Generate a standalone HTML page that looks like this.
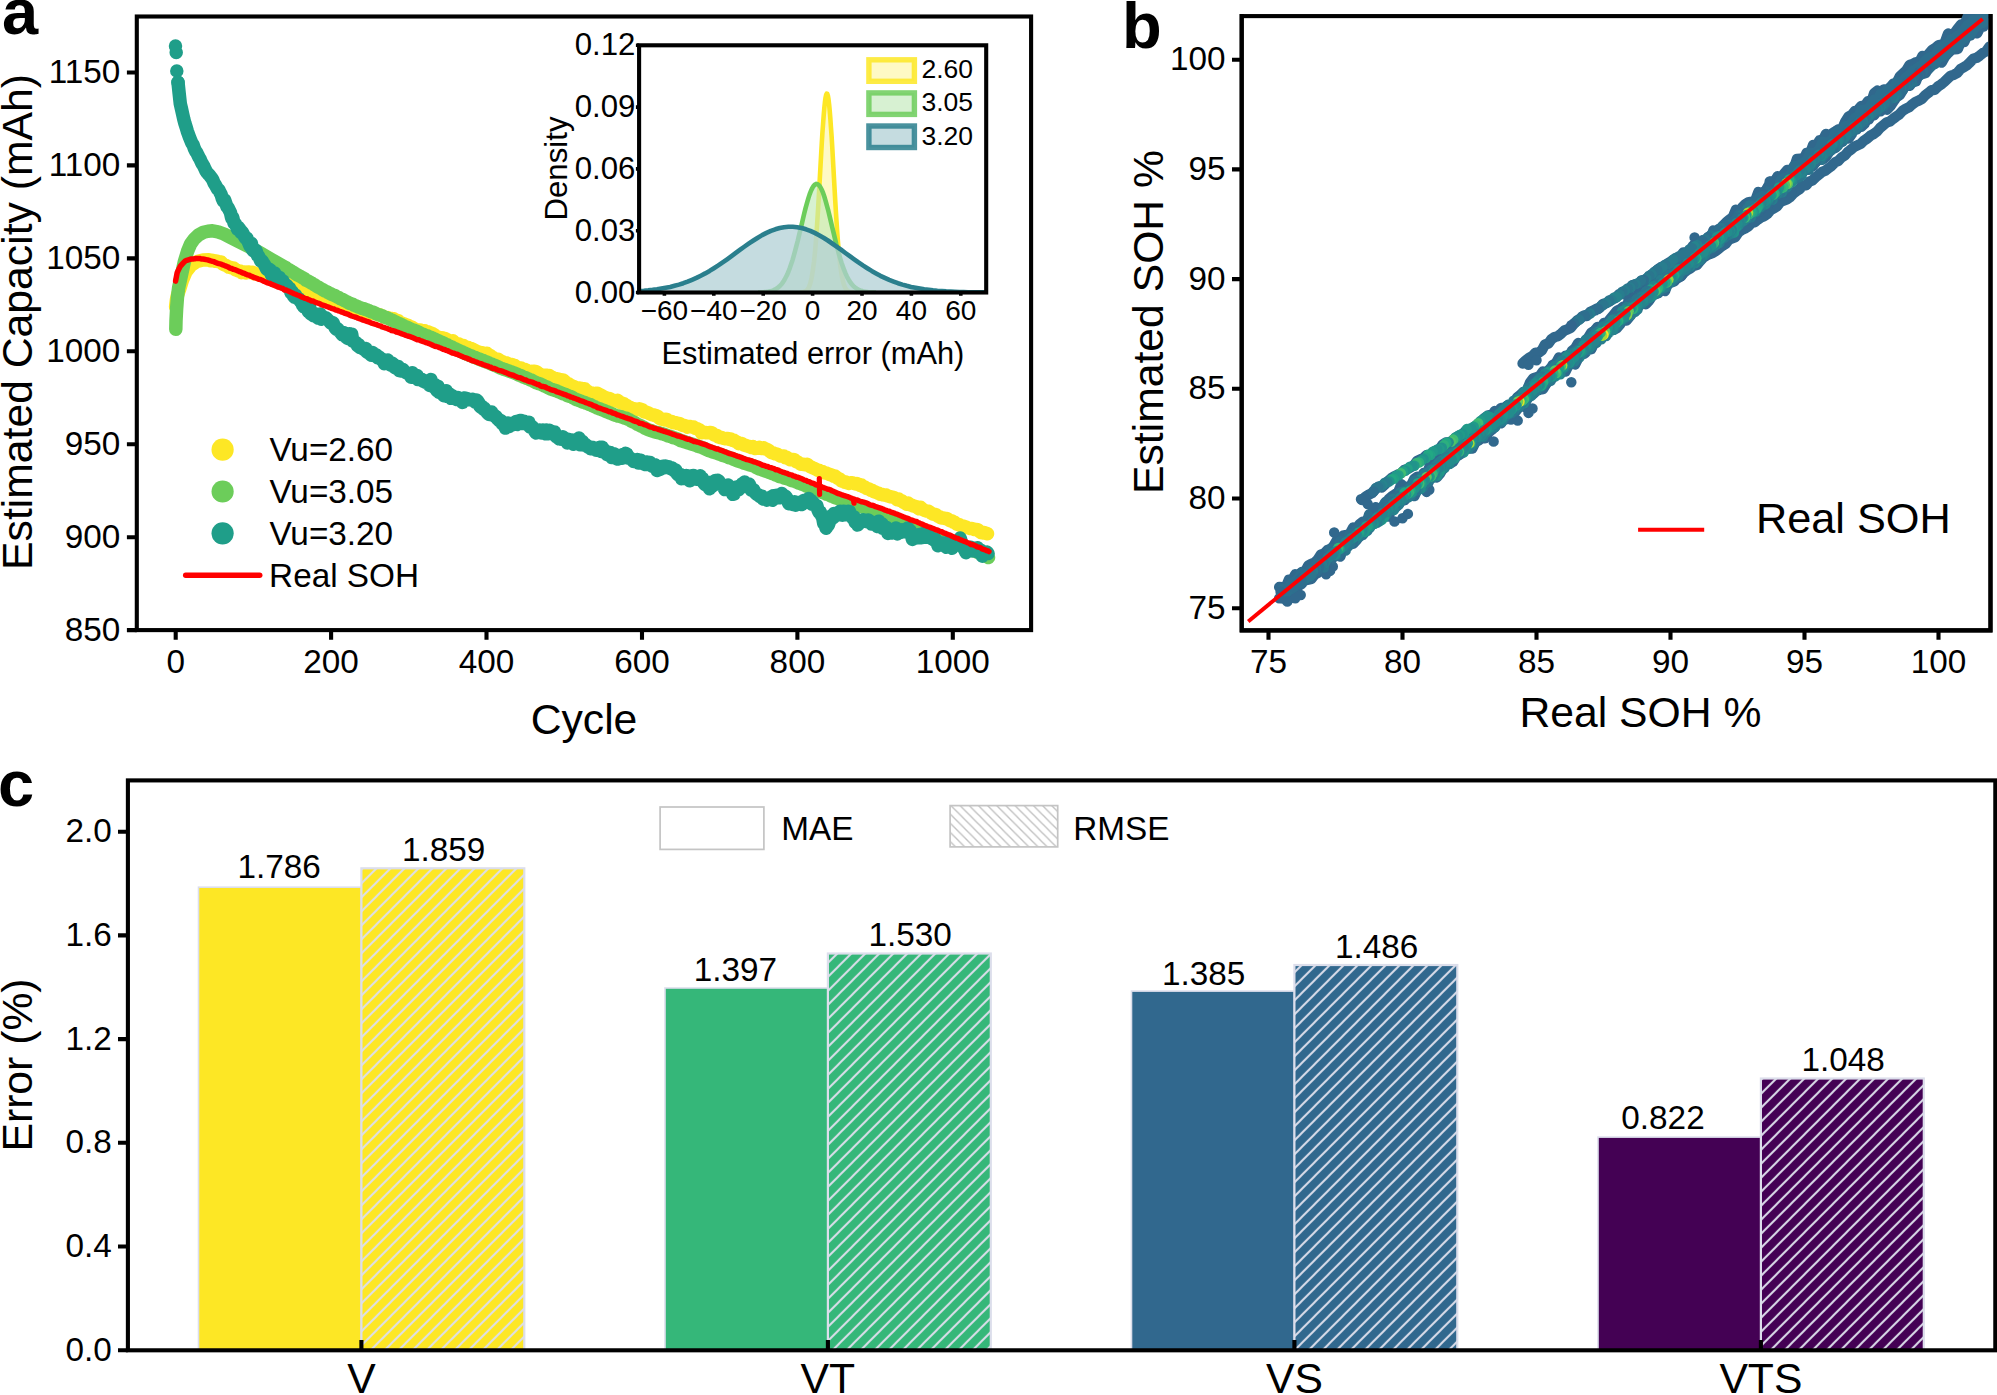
<!DOCTYPE html>
<html><head><meta charset="utf-8"><title>Figure</title>
<style>html,body{margin:0;padding:0;background:#fff}svg{display:block}text{font-family:'Liberation Sans', sans-serif;fill:#000}</style>
</head><body>
<svg width="1997" height="1395" viewBox="0 0 1997 1395">
<rect width="1997" height="1395" fill="#fff"/>
<!-- panel a -->
<g fill="none" stroke-linecap="round" stroke-linejoin="round" stroke-width="13.5">
<polyline stroke="#fde725" points="175.6,306.8 176.4,300 177.5,295 179.5,289.7 182.5,280 186.2,271.4 191,265.5 197,261.5 203,260 208.8,259.8 210.4,260.8 211.9,260.3 213.5,260.8 215,261.2 216.6,261 218.1,261.6 219.7,261.9 221.2,262 222.8,264.1 224.3,264.9 225.9,265.4 227.5,266.4 229,267.2 230.6,267.5 232.1,268.1 233.7,268.1 235.2,269.6 236.8,270.2 238.3,270.9 239.9,270.9 241.4,272.6 243,272.1 244.5,272 246.1,273 247.7,272.2 249.2,271.9 250.8,272.6 252.3,272.2 253.9,273.8 255.4,273.5 257,273.8 258.5,274.9 260.1,274.1 261.6,275.5 263.2,274.8 264.8,275.7 266.3,275.8 267.9,277.2 269.4,277.8 271,277.9 272.5,279.4 274.1,280 275.6,281.3 277.2,281.1 278.7,280.8 280.3,280.9 281.8,282 283.4,283 285,282.9 286.5,283.2 288.1,284.8 289.6,284.7 291.2,285.4 292.7,286.3 294.3,287 295.8,287.7 297.4,288.1 298.9,289.8 300.5,290.5 302.1,292 303.6,292.3 305.2,292.3 306.7,293.4 308.3,294.4 309.8,293.9 311.4,294 312.9,294.2 314.5,294.5 316,295.1 317.6,295 319.1,296.6 320.7,296.4 322.3,297.1 323.8,298.2 325.4,298.9 326.9,298.9 328.5,299.9 330,300.8 331.6,301.2 333.1,301 334.7,302.4 336.2,302.8 337.8,303 339.4,302.8 340.9,303.5 342.5,303.7 344,304.2 345.6,305.2 347.1,305.8 348.7,306.1 350.2,306.7 351.8,307.3 353.3,307.6 354.9,308.3 356.4,308.7 358,309.6 359.6,311.1 361.1,311.3 362.7,311.5 364.2,312.1 365.8,312.6 367.3,313.7 368.9,313.5 370.4,312.6 372,313.3 373.5,312.7 375.1,313.8 376.7,313.9 378.2,315.1 379.8,314.8 381.3,315.5 382.9,316.3 384.4,317.2 386,317.5 387.5,317.4 389.1,318.3 390.6,318.5 392.2,318.6 393.7,318.8 395.3,320.1 396.9,320.2 398.4,320.8 400,322.3 401.5,322.9 403.1,323.5 404.6,324.3 406.2,324.8 407.7,325.2 409.3,326.1 410.8,326.8 412.4,327.4 414,328.4 415.5,329.3 417.1,330.1 418.6,329.9 420.2,329.9 421.7,331 423.3,330.8 424.8,330.8 426.4,332 427.9,331.8 429.5,332.6 431.1,333 432.6,333.7 434.2,334.7 435.7,336 437.3,337 438.8,337.2 440.4,337.8 441.9,337.8 443.5,338.8 445,338.4 446.6,339.4 448.1,340.1 449.7,340.6 451.3,341.2 452.8,340.7 454.4,342.4 455.9,343.4 457.5,344.2 459,344.1 460.6,345.2 462.1,346.4 463.7,345.6 465.2,347 466.8,347.8 468.4,347.6 469.9,348.7 471.5,348.6 473,349.4 474.6,350.1 476.1,351.3 477.7,351.9 479.2,353 480.8,352.4 482.3,352.8 483.9,353.4 485.4,353.4 487,353.3 488.6,355 490.1,355.5 491.7,356.7 493.2,357.6 494.8,358.8 496.3,359.1 497.9,359.2 499.4,360.2 501,361.6 502.5,361.8 504.1,362.8 505.7,363 507.2,363.1 508.8,364.5 510.3,364.3 511.9,364.4 513.4,366.7 515,365.7 516.5,367.3 518.1,368 519.6,368.2 521.2,368 522.7,369.6 524.3,369.2 525.9,369.9 527.4,370.8 529,371.5 530.5,371.4 532.1,371.6 533.6,371.2 535.2,371.4 536.7,371.9 538.3,373.1 539.8,374.4 541.4,374.9 543,375.6 544.5,375.2 546.1,375.2 547.6,375.5 549.2,375.5 550.7,376.6 552.3,377.2 553.8,378.6 555.4,378.5 556.9,379 558.5,379 560,379.7 561.6,380.2 563.2,380 564.7,381.4 566.3,382.8 567.8,383.5 569.4,384.4 570.9,385.8 572.5,386 574,386.7 575.6,387.6 577.1,388.2 578.7,387.9 580.3,388.1 581.8,388.7 583.4,388.8 584.9,388.8 586.5,391.1 588,391.5 589.6,392.8 591.1,392.9 592.7,394 594.2,393.4 595.8,393.7 597.3,393.3 598.9,394.3 600.5,395 602,395.8 603.6,396.8 605.1,397.3 606.7,398.3 608.2,398.3 609.8,398.6 611.3,399.6 612.9,400.3 614.4,400.9 616,401 617.6,400.3 619.1,401.6 620.7,402.8 622.2,403.1 623.8,403.8 625.3,404.9 626.9,405.5 628.4,406.8 630,407.4 631.5,408.8 633.1,409.2 634.7,408.7 636.2,409.3 637.8,409.4 639.3,408.8 640.9,409.4 642.4,409.6 644,411.9 645.5,412.2 647.1,412.5 648.6,413.1 650.2,414 651.7,414.7 653.3,414.7 654.9,415.6 656.4,415.8 658,416.6 659.5,418.4 661.1,419.1 662.6,419.1 664.2,419.9 665.7,419.3 667.3,419.8 668.8,420.8 670.4,421.7 672,421.5 673.5,422.8 675.1,422.4 676.6,423.3 678.2,423.6 679.7,423.5 681.3,424.8 682.8,425.5 684.4,425.6 685.9,426 687.5,427.1 689,426.5 690.6,426.6 692.2,427.1 693.7,427.1 695.3,428.3 696.8,428.6 698.4,429.2 699.9,430.3 701.5,432.8 703,432.4 704.6,432.3 706.1,432.7 707.7,432.8 709.3,432.6 710.8,432.5 712.4,433.2 713.9,434.7 715.5,435.2 717,435.4 718.6,437.1 720.1,437.5 721.7,437.6 723.2,438.2 724.8,438.8 726.3,438.6 727.9,438.6 729.5,439.4 731,439 732.6,440.4 734.1,440.3 735.7,441.5 737.2,442.2 738.8,443.6 740.3,443.2 741.9,443.7 743.4,444.7 745,445.2 746.6,445.7 748.1,446.3 749.7,446.8 751.2,447.4 752.8,446.7 754.3,448.4 755.9,448.5 757.4,447.9 759,447.4 760.5,448.4 762.1,448.6 763.6,447.8 765.2,448.9 766.8,449.3 768.3,450 769.9,451.4 771.4,452.5 773,452.8 774.5,453.7 776.1,453.9 777.6,454.4 779.2,455.4 780.7,456.1 782.3,456.2 783.9,456.1 785.4,457.8 787,457.4 788.5,458.6 790.1,459.7 791.6,459.4 793.2,459.4 794.7,459.9 796.3,461.7 797.8,462.1 799.4,463.2 801,464.2 802.5,464.2 804.1,464.5 805.6,464.7 807.2,464.2 808.7,465.4 810.3,466.7 811.8,467.3 813.4,468.2 814.9,468.7 816.5,469.5 818,470.5 819.6,470.6 821.2,471.6 822.7,471.6 824.3,473 825.8,472.9 827.4,473.5 828.9,474.2 830.5,474.7 832,475 833.6,476.1 835.1,475.9 836.7,477.5 838.3,478.5 839.8,478.9 841.4,481.1 842.9,481.3 844.5,482.2 846,482.1 847.6,483 849.1,483.4 850.7,482.8 852.2,482.7 853.8,483.4 855.3,483.9 856.9,483.6 858.5,484.2 860,485.5 861.6,485 863.1,486.6 864.7,487 866.2,488.4 867.8,488.7 869.3,489.2 870.9,490.2 872.4,490.4 874,491.7 875.6,492.1 877.1,492.9 878.7,493.3 880.2,494.3 881.8,494.3 883.3,494.9 884.9,495.2 886.4,495.1 888,496.1 889.5,496.5 891.1,496.9 892.6,497.1 894.2,497.6 895.8,498.6 897.3,499.7 898.9,499.1 900.4,500.5 902,501 903.5,502.4 905.1,503.1 906.6,504.1 908.2,503.1 909.7,504.6 911.3,505 912.9,505.9 914.4,506.2 916,506.7 917.5,507.7 919.1,508.7 920.6,507.3 922.2,509 923.7,510 925.3,510.6 926.8,511.1 928.4,511.3 929.9,512.1 931.5,513.3 933.1,514.1 934.6,514.4 936.2,514.8 937.7,516.1 939.3,516.8 940.8,517.9 942.4,518.1 943.9,518.1 945.5,518.7 947,518.5 948.6,519.8 950.2,520.8 951.7,520.7 953.3,522.1 954.8,522.4 956.4,523.9 957.9,524.5 959.5,524.7 961,525.9 962.6,525.9 964.1,526.4 965.7,526.9 967.2,527.6 968.8,528.1 970.4,528.6 971.9,528.5 973.5,529.3 975,529.6 976.6,529.4 978.1,529.9 979.7,531.6 981.2,532.6 982.8,532.9 984.3,532.6 985.9,533.2 987.5,533.7"/>
<polyline stroke="#6ccd5a" points="175.8,329.3 176,320.8 176.6,309.2 177.4,298 178.6,288 181.4,275.2 184.3,262 187.6,251.1 190.6,244 194.1,239.1 198.5,235 203.5,232.3 208,231.2 212.5,230.8 218,231.8 224,234 230.2,237.3 239,241.8 248.3,246.3 260.2,253 272,259.8 284.4,266.8 286,267.7 287.5,268.9 289.1,269.8 290.6,270.6 292.2,271.7 293.7,272.5 295.3,273.6 296.8,274.6 298.4,275.4 299.9,276.2 301.5,277.1 303.1,278 304.6,278.9 306.2,280.3 307.7,280.9 309.3,281.7 310.8,282.6 312.4,283.5 313.9,284.5 315.5,285.4 317,286.6 318.6,287.3 320.1,288.1 321.7,289.1 323.3,290 324.8,290.9 326.4,291.5 327.9,292.4 329.5,293.2 331,294 332.6,294.7 334.1,295.3 335.7,296 337.2,297 338.8,297.6 340.4,298.7 341.9,299.3 343.5,300 345,300.9 346.6,301.6 348.1,302.5 349.7,303.4 351.2,303.7 352.8,304.3 354.3,305.3 355.9,305.9 357.4,306.5 359,307.2 360.6,307.8 362.1,308.4 363.7,308.7 365.2,309.4 366.8,309.8 368.3,310.4 369.9,311.2 371.4,311.9 373,312.2 374.5,312.9 376.1,313.7 377.7,314.4 379.2,314.8 380.8,315.4 382.3,315.9 383.9,317 385.4,317.3 387,318 388.5,318.6 390.1,319.3 391.6,320 393.2,320.7 394.7,321.6 396.3,322.3 397.9,323.2 399.4,323.7 401,324.4 402.5,325.3 404.1,326.1 405.6,326.7 407.2,327.3 408.7,328.1 410.3,328.7 411.8,329.6 413.4,330 415,330.7 416.5,331.2 418.1,331.9 419.6,332.8 421.2,333.6 422.7,334.3 424.3,334.8 425.8,335.5 427.4,335.9 428.9,336.6 430.5,337.1 432,337.8 433.6,338.6 435.2,339.3 436.7,340.2 438.3,340.7 439.8,341.5 441.4,342.1 442.9,342.7 444.5,343.5 446,344.5 447.6,345 449.1,346 450.7,346.8 452.3,347.3 453.8,348.2 455.4,348.8 456.9,349.6 458.5,350.2 460,351.1 461.6,351.6 463.1,352.5 464.7,353.1 466.2,353.8 467.8,354.6 469.3,355.2 470.9,355.8 472.5,356.5 474,357.2 475.6,357.6 477.1,358.4 478.7,359 480.2,359.5 481.8,360.2 483.3,360.6 484.9,361.5 486.4,361.9 488,362.5 489.6,363.3 491.1,363.8 492.7,364.6 494.2,365.1 495.8,365.8 497.3,366.4 498.9,367.3 500.4,368.1 502,368.6 503.5,369.2 505.1,369.6 506.7,370.2 508.2,370.8 509.8,371.4 511.3,371.9 512.9,372.5 514.4,373.1 516,373.7 517.5,374.4 519.1,375.2 520.6,375.6 522.2,376.4 523.7,377.2 525.3,377.6 526.9,378.4 528.4,378.9 530,379.9 531.5,380.2 533.1,381.1 534.6,381.8 536.2,382.8 537.7,383.2 539.3,383.7 540.8,384.2 542.4,385 544,385.8 545.5,386.5 547.1,387.1 548.6,388 550.2,388.8 551.7,389.3 553.3,389.9 554.8,390.4 556.4,390.8 557.9,391.6 559.5,392.1 561,392.9 562.6,393.6 564.2,394 565.7,394.6 567.3,395.5 568.8,396 570.4,396.6 571.9,397 573.5,398.1 575,398.9 576.6,399.7 578.1,400.1 579.7,400.8 581.3,401.4 582.8,402.1 584.4,402.4 585.9,403.1 587.5,403.6 589,404.4 590.6,404.7 592.1,405.6 593.7,406.2 595.2,407 596.8,407.8 598.3,408.5 599.9,408.8 601.5,409.7 603,410.2 604.6,410.7 606.1,411.5 607.7,412 609.2,412.8 610.8,413.3 612.3,413.9 613.9,414.7 615.4,415.3 617,415.7 618.6,416.2 620.1,416.5 621.7,416.9 623.2,417.5 624.8,418.1 626.3,418.2 627.9,419.2 629.4,419.8 631,420.9 632.5,421.8 634.1,422.1 635.6,423.1 637.2,424.2 638.8,424.9 640.3,425.6 641.9,426.4 643.4,427.1 645,428.2 646.5,428.8 648.1,429.7 649.6,430.2 651.2,430.6 652.7,431.2 654.3,431.8 655.9,432.2 657.4,432.6 659,432.8 660.5,433.5 662.1,433.7 663.6,434 665.2,434.7 666.7,435.3 668.3,436 669.8,436.3 671.4,436.7 673,437.6 674.5,437.9 676.1,438.4 677.6,439 679.2,439.7 680.7,440.6 682.3,441 683.8,441.5 685.4,442 686.9,442.7 688.5,442.9 690,443.5 691.6,444 693.2,444.5 694.7,444.9 696.3,445.6 697.8,446.2 699.4,446.6 700.9,447.1 702.5,447.6 704,448.5 705.6,449.1 707.1,449.8 708.7,450.5 710.3,451 711.8,451.7 713.4,452.1 714.9,452.5 716.5,453 718,453.7 719.6,454.1 721.1,454.6 722.7,455.4 724.2,455.8 725.8,456.3 727.3,456.8 728.9,457.6 730.5,458 732,458.6 733.6,459.3 735.1,459.8 736.7,460.5 738.2,461 739.8,461.5 741.3,462 742.9,462.6 744.4,463.3 746,463.7 747.6,464.1 749.1,464.7 750.7,465.1 752.2,465.5 753.8,466 755.3,467 756.9,467.7 758.4,468.5 760,469.2 761.5,469.7 763.1,470.2 764.6,470.8 766.2,471.3 767.8,471.8 769.3,472.4 770.9,473 772.4,473.5 774,474 775.5,474.9 777.1,475.5 778.6,476.2 780.2,476.7 781.7,477.1 783.3,477.5 784.9,478.2 786.4,478.3 788,479 789.5,479.6 791.1,480.3 792.6,480.8 794.2,481.2 795.7,481.7 797.3,482.4 798.8,483.1 800.4,483.6 801.9,484.2 803.5,484.8 805.1,485.4 806.6,486.2 808.2,486.6 809.7,487.4 811.3,488.3 812.8,488.9 814.4,489.4 815.9,490.2 817.5,490.5 819,491.2 820.6,491.9 822.2,492.5 823.7,492.7 825.3,493.6 826.8,494.3 828.4,494.7 829.9,495.4 831.5,496.2 833,496.6 834.6,497.4 836.1,498 837.7,498.4 839.2,499.3 840.8,499.8 842.4,500.5 843.9,501.2 845.5,501.6 847,502 848.6,502.7 850.1,503.2 851.7,503.9 853.2,504.1 854.8,504.6 856.3,505 857.9,505.8 859.5,506.2 861,506.6 862.6,507 864.1,507.5 865.7,508.1 867.2,508.9 868.8,509.6 870.3,510.5 871.9,510.9 873.4,511.3 875,511.9 876.6,512.7 878.1,513.1 879.7,513.7 881.2,514.3 882.8,515 884.3,515.3 885.9,515.8 887.4,516.1 889,516.9 890.5,517.2 892.1,517.6 893.6,518.4 895.2,519.3 896.8,519.9 898.3,520.7 899.9,521.5 901.4,521.6 903,522 904.5,522.9 906.1,523 907.6,523.7 909.2,524.4 910.7,525.2 912.3,526 913.9,526.7 915.4,527.2 917,527.7 918.5,528.2 920.1,529 921.6,529.7 923.2,530.3 924.7,530.7 926.3,531.4 927.8,531.9 929.4,532.7 930.9,533.2 932.5,534 934.1,534.8 935.6,535.3 937.2,536 938.7,536.7 940.3,537.2 941.8,537.5 943.4,538 944.9,538.5 946.5,539 948,539.6 949.6,540.4 951.2,541.1 952.7,541.8 954.3,542.5 955.8,543.2 957.4,543.9 958.9,544.9 960.5,545.6 962,546.1 963.6,546.8 965.1,547.6 966.7,548.4 968.2,549.3 969.8,549.9 971.4,550.3 972.9,550.8 974.5,551.2 976,551.6 977.6,552.3 979.1,553 980.7,553.5 982.2,554.5 983.8,555.4 985.3,555.9 986.9,556.6 988.5,557.5"/>
<path stroke="#1f9e89" d="M175.5 46.1h0M176.2 52.6h0M176.8 71.1h0M178 82.2h0"/>
<polyline stroke="#1f9e89" points="178,82.2 179.2,93.8 180.3,103.8 181.5,108.9 182.7,114.4 183.8,119.2 185,123.7 186.2,127.4 187.3,131.2 188.5,134.6 189.7,137.8 190.8,140.5 192,143.3 193.2,145.1 194.3,148.4 195.5,151 196.7,152.7 197.8,154.8 199,157.4 200.1,159.1 201.3,162 202.5,164.2 203.6,165.9 204.8,168.5 206,171 207.1,172.6 208.3,174.1 209.5,175.2 210.6,176.7 211.8,178.3 213,180.3 214.1,183.2 215.3,184.9 216.5,187.1 217.6,189 218.8,189.8 220,192.5 221.1,194.4 222.3,198.5 223.5,201.2 224.6,199.8 225.8,203.4 227,206.8 228.1,207.8 229.3,210.2 230.5,212.7 231.6,217.7 232.8,217.7 234,222.9 235.1,223.2 236.3,226 237.4,229.1 238.6,227.6 239.8,229.1 240.9,232.6 242.1,231.9 243.3,234 244.4,236.4 245.6,238.4 246.8,237.9 247.9,240.8 249.1,243.9 250.3,246.7 251.4,243.4 252.6,250 253.8,251 254.9,249.7 256.1,250.8 257.3,255.3 258.4,255.8 259.6,258.3 260.8,261.1 261.9,260.6 263.1,262.7 264.3,264.4 265.4,266.3 266.6,268.9 267.8,270.1 268.9,269.1 270.1,269.7 271.3,274.8 272.4,273.4 273.6,274.3 274.7,273.1 275.9,277.1 277.1,276 278.2,277.6 279.4,277.5 280.6,279.9 281.7,282 282.9,280.9 284.1,283 285.2,285.5 286.4,285 287.6,286.2 288.7,288.1 289.9,288.5 291.1,292.9 292.2,291.7 293.4,295.7 294.6,297.2 295.7,295.2 296.9,298.3 298.1,298.7 299.2,298.9 300.4,301.3 301.6,302.7 302.7,305.3 303.9,306.9 305.1,304.9 306.2,307.1 307.4,309.7 308.6,311.8 309.7,307.6 310.9,314 312,312.5 313.2,315.7 314.4,313.5 315.5,313.6 316.7,315.6 317.9,318 319,317 320.2,314.1 321.4,319.2 322.5,316.4 323.7,317.9 324.9,318.2 326,317.8 327.2,319.3 328.4,320.2 329.5,321.4 330.7,323 331.9,323.5 333,322.7 334.2,325.6 335.4,328.3 336.5,329.2 337.7,328.9 338.9,330.5 340,331.9 341.2,333.4 342.4,334.8 343.5,332.6 344.7,333.5 345.9,337 347,337.9 348.2,338.7 349.4,333.8 350.5,337.8 351.7,334.2 352.8,341.2 354,341.1 355.2,342.1 356.3,342.8 357.5,345.9 358.7,344.5 359.8,347.4 361,347.5 362.2,348.1 363.3,349.1 364.5,349.4 365.7,348.4 366.8,351.9 368,352.7 369.2,352.3 370.3,354.4 371.5,355.3 372.7,352.6 373.8,355 375,355.2 376.2,355.1 377.3,357.6 378.5,356.4 379.7,357.7 380.8,359.2 382,359.9 383.2,360.3 384.3,363.7 385.5,360.1 386.7,361.8 387.8,360.1 389,363.1 390.1,364.6 391.3,365.4 392.5,363.3 393.6,364.6 394.8,367.7 396,366.3 397.1,368.7 398.3,366.5 399.5,370.7 400.6,370.9 401.8,370.7 403,369.5 404.1,371.1 405.3,372.2 406.5,373 407.6,373.1 408.8,373.6 410,374.8 411.1,377.3 412.3,372.7 413.5,374.2 414.6,374.6 415.8,376.4 417,375.4 418.1,379.4 419.3,379.3 420.5,379.3 421.6,379.2 422.8,380.9 424,381.4 425.1,382.1 426.3,381 427.4,383.6 428.6,380.9 429.8,385.5 430.9,379.6 432.1,384 433.3,383.9 434.4,387.6 435.6,384.9 436.8,390.6 437.9,386.3 439.1,392.4 440.3,390.8 441.4,390.9 442.6,392.3 443.8,395.7 444.9,394.6 446.1,390.7 447.3,396.6 448.4,396 449.6,394 450.8,398.3 451.9,395.6 453.1,398 454.3,398.4 455.4,397.4 456.6,399.6 457.8,397.4 458.9,399.5 460.1,398.7 461.3,399.2 462.4,402.4 463.6,399.7 464.7,397.9 465.9,399.4 467.1,398.4 468.2,399.6 469.4,399.8 470.6,399.8 471.7,400.1 472.9,399.3 474.1,401 475.2,402.2 476.4,399.9 477.6,401 478.7,402.8 479.9,406.2 481.1,407.5 482.2,406.4 483.4,409.2 484.6,408.4 485.7,410.2 486.9,412.2 488.1,413.6 489.2,414.6 490.4,413.2 491.6,412.1 492.7,415.3 493.9,414.9 495.1,416.3 496.2,416.7 497.4,418.7 498.6,419.8 499.7,421.2 500.9,420.5 502.1,423.8 503.2,422.7 504.4,424.8 505.5,428.1 506.7,425.5 507.9,422.9 509,426.6 510.2,425.5 511.4,425.4 512.5,423.7 513.7,423.6 514.9,422.4 516,421.4 517.2,424.4 518.4,421.2 519.5,420.7 520.7,420.5 521.9,423.6 523,422.5 524.2,421.3 525.4,422.4 526.5,423.9 527.7,425.1 528.9,422.3 530,427.1 531.2,426.4 532.4,426.7 533.5,428.2 534.7,430.9 535.9,433 537,430.9 538.2,431.8 539.4,430.1 540.5,432.3 541.7,433.1 542.8,429.9 544,431.7 545.2,433.8 546.3,430 547.5,432.2 548.7,433.7 549.8,430.3 551,432.3 552.2,433 553.3,434.4 554.5,431.9 555.7,436.3 556.8,435.9 558,438 559.2,438.8 560.3,438.3 561.5,439.3 562.7,436.8 563.8,437.9 565,438.9 566.2,440.4 567.3,442.9 568.5,439.3 569.7,442 570.8,440.7 572,440 573.2,444.2 574.3,441.7 575.5,443.7 576.7,442.6 577.8,439.1 579,437.9 580.1,444.7 581.3,441.8 582.5,441.5 583.6,445.1 584.8,445.1 586,444.8 587.1,446.1 588.3,447.2 589.5,447.4 590.6,448.7 591.8,447.3 593,447.5 594.1,449.2 595.3,449 596.5,450.3 597.6,448.4 598.8,448.8 600,447.3 601.1,451.4 602.3,447.2 603.5,450.5 604.6,449.9 605.8,452.8 607,454.5 608.1,452 609.3,454.7 610.5,452.6 611.6,457.6 612.8,455.1 614,453.7 615.1,455.2 616.3,458.5 617.5,459 618.6,458.8 619.8,455.4 620.9,456 622.1,458.3 623.3,454.4 624.4,454.6 625.6,453.4 626.8,453.8 627.9,458 629.1,457.8 630.3,458.1 631.4,459 632.6,460.3 633.8,461.6 634.9,459.9 636.1,459.9 637.3,459.4 638.4,463.1 639.6,461.2 640.8,460.2 641.9,462.2 643.1,462.8 644.3,464.1 645.4,464.6 646.6,462.1 647.8,462.2 648.9,463.1 650.1,462.5 651.3,464.8 652.4,466.4 653.6,466.5 654.8,464.7 655.9,466 657.1,470.5 658.2,467.3 659.4,469.6 660.6,469.2 661.7,467.5 662.9,466.2 664.1,467.8 665.2,465.9 666.4,466.7 667.6,467.5 668.7,466.9 669.9,468.2 671.1,468.7 672.2,467.9 673.4,470.2 674.6,470.7 675.7,470.1 676.9,473.5 678.1,474.7 679.2,475.4 680.4,474.4 681.6,478.7 682.7,478.5 683.9,478.5 685.1,478 686.2,475.6 687.4,477.7 688.6,476.1 689.7,480.8 690.9,476.7 692.1,478.6 693.2,475.4 694.4,476.1 695.5,477.2 696.7,479.2 697.9,479.1 699,478.9 700.2,475.8 701.4,480.5 702.5,478.3 703.7,483 704.9,484.3 706,483.6 707.2,484.7 708.4,482.2 709.5,488.8 710.7,486.2 711.9,486.7 713,482.9 714.2,483.1 715.4,480.5 716.5,480.9 717.7,480.3 718.9,481.1 720,484.3 721.2,484.3 722.4,485.4 723.5,486.2 724.7,489.6 725.9,486.2 727,489.3 728.2,485 729.4,487.1 730.5,489.5 731.7,489.1 732.8,494.3 734,494.1 735.2,487.3 736.3,487.1 737.5,487.7 738.7,489.7 739.8,488 741,486.5 742.2,483.9 743.3,484.7 744.5,482 745.7,483.7 746.8,486.6 748,487.2 749.2,484 750.3,486.7 751.5,490.2 752.7,489.4 753.8,490 755,492.6 756.2,493.8 757.3,494.5 758.5,494.9 759.7,496.3 760.8,497.1 762,496.2 763.2,499 764.3,498.3 765.5,498.6 766.7,500 767.8,499.4 769,499.1 770.2,497.6 771.3,496.7 772.5,500.3 773.6,495.7 774.8,495.7 776,495.3 777.1,496.8 778.3,497 779.5,497.8 780.6,495.8 781.8,493.5 783,496.5 784.1,497.4 785.3,496 786.5,497.6 787.6,500.5 788.8,503.7 790,503.3 791.1,503.1 792.3,504.3 793.5,504.5 794.6,501.7 795.8,505.2 797,502.5 798.1,504 799.3,503.2 800.5,502 801.6,504.6 802.8,500.9 804,500.4 805.1,501.5 806.3,502 807.5,500.4 808.6,498.6 809.8,500.8 810.9,500.4 812.1,504.3 813.3,502.5 814.4,504.8 815.6,505.3 816.8,505.6 817.9,509.6 819.1,512.5 820.3,512.1 821.4,515.4 822.6,517.3 823.8,523.8 824.9,523.6 826.1,528.2 827.3,526.1 828.4,524.9 829.6,521.3 830.8,516.1 831.9,517.7 833.1,517.9 834.3,513.4 835.4,515.8 836.6,514.9 837.8,513.4 838.9,514.2 840.1,511.2 841.3,514.2 842.4,515.3 843.6,511.3 844.8,512.8 845.9,514.8 847.1,512.5 848.2,511.3 849.4,511.4 850.6,514.6 851.7,515.8 852.9,518.5 854.1,516.9 855.2,522.4 856.4,521.8 857.6,525 858.7,524 859.9,521.9 861.1,521.9 862.2,520.1 863.4,519.8 864.6,520.2 865.7,521.3 866.9,520.6 868.1,520 869.2,520.6 870.4,522.7 871.6,524.1 872.7,522.4 873.9,523.2 875.1,522.8 876.2,524.8 877.4,526.5 878.6,521.2 879.7,526.5 880.9,525.9 882.1,523.8 883.2,528.4 884.4,528.4 885.5,529.6 886.7,527.6 887.9,533.4 889,530.5 890.2,530 891.4,532.9 892.5,531.8 893.7,532.2 894.9,532.8 896,528.1 897.2,533.9 898.4,530.8 899.5,531.6 900.7,532.4 901.9,529.8 903,531.2 904.2,531.7 905.4,530.4 906.5,531 907.7,528.1 908.9,529.5 910,530.4 911.2,533.6 912.4,539.4 913.5,535.1 914.7,535.3 915.9,536.2 917,537.8 918.2,537.4 919.4,534.6 920.5,537.8 921.7,536.3 922.9,537.5 924,533.3 925.2,534 926.3,537.2 927.5,533.6 928.7,537.2 929.8,537.7 931,538 932.2,538.9 933.3,539.4 934.5,540.3 935.7,539.6 936.8,540.7 938,545.8 939.2,543.7 940.3,543.6 941.5,543.9 942.7,542.9 943.8,545 945,544.9 946.2,547.3 947.3,544.4 948.5,541.9 949.7,544.3 950.8,545.9 952,548.3 953.2,545.8 954.3,542.5 955.5,543.4 956.7,541.7 957.8,542 959,540.1 960.2,538.1 961.3,541.8 962.5,544.6 963.6,547.1 964.8,550.2 966,552.7 967.1,549.9 968.3,549.1 969.5,551 970.6,547.2 971.8,550.8 973,548.5 974.1,548.3 975.3,549.4 976.5,551.5 977.6,547.7 978.8,550 980,550.6 981.1,550.3 982.3,556.2 983.5,554.2 984.6,552.5 985.8,552.8 987,552.2 988.1,553.5"/>
</g>
<polyline fill="none" stroke="#ff0000" stroke-width="5.5" stroke-linecap="round" stroke-linejoin="round" points="175.6,281.1 177.2,272.6 178.8,269.2 180.4,266.1 182,264.3 183.6,262.6 185.2,261 186.8,260.3 188.4,259.8 190,259.3 191.6,259 193.2,258.9 194.8,258.8 196.4,258.4 198,258.6 199.6,258.4 201.2,259 202.8,259.1 204.4,259.3 206,259.6 207.6,259.9 209.2,260.4 210.8,260.9 212.4,261.3 214,261.7 215.6,262.5 217.2,263.1 218.8,263.6 220.4,263.9 222,264.6 223.6,265.1 225.2,265.9 226.8,266.4 228.4,267.1 230,268.1 231.6,268.5 233.2,269.3 234.8,269.6 236.4,270.2 238,270.9 239.6,271.7 241.2,272.2 242.8,273 244.4,273.4 246,274.3 247.6,274.9 249.2,275.2 250.8,276.1 252.4,276.6 254,277.5 255.6,277.9 257.2,278.6 258.8,279.3 260.4,279.5 262,280.2 263.6,281.2 265.2,281.8 266.8,282.6 268.4,283.1 270,283.5 271.6,284.4 273.2,284.9 274.8,285.6 276.4,286.2 278,287 279.6,287.4 281.2,288.1 282.8,288.5 284.4,289.9 286,290.1 287.6,290.8 289.2,291.4 290.8,292.2 292.4,292.9 294,293.7 295.6,294.3 297.2,295 298.8,295.5 300.4,296.3 302,297.2 303.6,297.7 305.2,298.4 306.8,298.7 308.4,299.7 310,300.2 311.6,301 313.2,301 314.8,302 316.4,302.6 318,303.2 319.6,303.7 321.2,304.5 322.8,305.2 324.4,305.7 326,306.2 327.6,306.8 329.2,307.4 330.8,308.1 332.4,308.6 334,309 335.6,310.1 337.2,310.2 338.8,311 340.4,311.5 342,312.2 343.6,312.7 345.2,313.4 346.8,313.9 348.4,314.4 350,315.3 351.6,316 353.2,316.5 354.8,317 356.4,317.4 358,318.2 359.6,318.8 361.2,319.2 362.8,320 364.4,320.4 366,321.1 367.6,321.5 369.2,322.1 370.8,322.8 372.4,323.3 374,323.9 375.6,324.3 377.2,324.9 378.8,325.6 380.4,325.9 382,326.9 383.6,327.3 385.2,327.9 386.8,328.3 388.4,329.1 390,329.6 391.6,330.5 393.2,330.8 394.8,331.1 396.4,332 398,332.4 399.6,333 401.2,333.6 402.8,334.2 404.4,334.8 406,335.5 407.6,336 409.2,336.4 410.8,336.9 412.4,337.6 414,338.3 415.6,339 417.2,339.7 418.8,339.8 420.4,340.6 422,341.1 423.6,341.7 425.2,342.3 426.8,342.8 428.4,343.4 430,344 431.6,344.7 433.2,345.5 434.8,346.2 436.4,346.5 438,347 439.6,347.7 441.2,348.3 442.8,349.2 444.4,349.5 446,350.3 447.6,350.7 449.2,351.5 450.8,352.2 452.4,353 454,353.3 455.6,354 457.2,354.3 458.8,355.1 460.4,355.7 462,356.4 463.6,357.2 465.2,357.8 466.8,358.1 468.4,359 470,359.4 471.6,360.5 473.2,360.9 474.8,361.5 476.4,362 478,362.7 479.6,363.3 481.2,363.7 482.8,364.5 484.4,365 486,365.7 487.6,366.1 489.2,366.8 490.8,367.2 492.4,368.4 494,368.4 495.6,369 497.2,369.8 498.8,370.4 500.4,370.7 502,371.1 503.6,371.7 505.2,372.4 506.8,373 508.4,373.7 510,374.4 511.6,375 513.2,375.3 514.8,376.1 516.4,376.7 518,377.4 519.6,377.7 521.2,378.2 522.8,379 524.4,379.7 526,380 527.6,381 529.2,381.5 530.8,381.8 532.4,382.2 534,383 535.6,383.6 537.2,384.4 538.8,384.6 540.4,385.9 542,386.4 543.6,386.6 545.2,387 546.8,387.9 548.4,388.6 550,389.3 551.6,389.8 553.2,390.3 554.8,390.6 556.4,391.6 558,392.2 559.6,392.7 561.2,393.3 562.8,393.9 564.4,394.5 566,394.9 567.6,395.8 569.2,396.1 570.8,397.1 572.4,397.4 574,398.2 575.6,398.6 577.2,399.4 578.8,399.9 580.4,400.7 582,401.1 583.6,401.6 585.2,402.4 586.8,403 588.4,403.5 590,404.2 591.6,404.7 593.2,405.6 594.8,406.1 596.4,406.8 598,407.8 599.6,408.1 601.2,408.7 602.8,409.3 604.4,409.8 606,410.3 607.6,411.1 609.2,411.8 610.8,411.8 612.4,412.8 614,413.3 615.6,413.9 617.2,414.8 618.8,415.1 620.4,415.9 622,416.3 623.6,416.9 625.2,417.6 626.8,418 628.4,418.7 630,419.1 631.6,419.8 633.2,420.6 634.8,421.2 636.4,421.5 638,422.1 639.6,423.3 641.2,423.4 642.8,423.9 644.4,424.7 646,425.1 647.6,425.8 649.2,426.6 650.8,427.1 652.4,427.4 654,428.2 655.6,428.5 657.2,429 658.8,429.6 660.4,430 662,430.7 663.6,431.2 665.2,431.5 666.8,432.2 668.4,432.6 670,433.1 671.6,433.7 673.2,434.4 674.8,434.8 676.4,435.5 678,436.1 679.6,436.3 681.2,436.8 682.8,437.3 684.4,438 686,438.6 687.6,439.2 689.2,439.3 690.8,440.1 692.4,440.7 694,441.4 695.6,441.6 697.2,442.1 698.8,442.4 700.4,443.1 702,443.6 703.6,444.2 705.2,444.7 706.8,445.2 708.4,446 710,446.6 711.6,447.2 713.2,447.6 714.8,448.4 716.4,448.9 718,449.1 719.6,449.8 721.2,450.3 722.8,450.9 724.4,451.6 726,452.1 727.6,452.9 729.2,453.5 730.8,453.9 732.4,454.3 734,454.9 735.6,455.5 737.2,456.1 738.8,456.5 740.4,457.2 742,457.7 743.6,458.4 745.2,459 746.8,459.6 748.4,459.9 750,460.3 751.6,460.8 753.2,461.6 754.8,462 756.4,462.5 758,463.2 759.6,463.7 761.2,464.5 762.8,465.3 764.4,465.5 766,466.2 767.6,466.4 769.2,467.3 770.8,467.7 772.4,468.2 774,468.6 775.6,469.7 777.2,469.8 778.8,470.4 780.4,471.2 782,471.8 783.6,472.3 785.2,472.9 786.8,473.3 788.4,474.1 790,474.6 791.6,474.9 793.2,475.9 794.8,476.2 796.4,477 798,477.3 799.6,477.9 801.2,478.6 802.8,479.3 804.4,480.1 806,480.4 807.6,481.3 809.2,481.7 810.8,482.6 812.4,483.2 814,483.7 815.6,484.7 817.2,485 818.8,485.8 820.4,486.1 822,486.9 823.6,487.6 825.2,488.2 826.8,488.8 828.4,489.3 830,489.6 831.6,490.6 833.2,491.2 834.8,491.9 836.4,492.7 838,493.5 839.6,493.9 841.2,494.6 842.8,495.1 844.4,495.7 846,496.2 847.6,496.6 849.2,497.2 850.8,497.9 852.4,498.6 854,499.1 855.6,499.7 857.2,499.9 858.8,500.7 860.4,501.3 862,501.8 863.6,502.1 865.2,502.6 866.8,503.1 868.4,504 870,504.9 871.6,505.2 873.2,505.5 874.8,506.3 876.4,506.8 878,507.4 879.6,507.9 881.2,508.4 882.8,509 884.4,509.8 886,510.3 887.6,511 889.2,511.2 890.8,512.1 892.4,512.5 894,513.1 895.6,513.8 897.2,514.2 898.8,514.9 900.4,515.6 902,516.2 903.6,516.9 905.2,517.6 906.8,518.1 908.4,518.6 910,519.7 911.6,519.9 913.2,520.6 914.8,521.1 916.4,521.5 918,522.4 919.6,523.1 921.2,523.9 922.8,524.4 924.4,525.2 926,525.8 927.6,526.5 929.2,527 930.8,527.6 932.4,528.2 934,528.8 935.6,529.7 937.2,530 938.8,530.8 940.4,531.5 942,531.8 943.6,532.8 945.2,533.3 946.8,534 948.4,534.6 950,535.1 951.6,536 953.2,536.7 954.8,537.5 956.4,538.1 958,538.4 959.6,539.5 961.2,540.1 962.8,540.8 964.4,541.4 966,541.9 967.6,542.7 969.2,543.3 970.8,544.4 972.4,544.6 974,545.1 975.6,545.9 977.2,546.9 978.8,547.2 980.4,547.6 982,548.9 983.6,549.4 985.2,549.9 986.8,550.7 988.4,551.2 988.9,551.5"/>
<path fill="none" stroke="#ff0000" stroke-width="5.2" stroke-linecap="round" d="M819.3 478.6L819.6 494.3M853.4 500L854 503.2"/>
<rect x="136.8" y="16.5" width="894.3" height="613.6" fill="none" stroke="#000" stroke-width="4.1"/>
<path d="M126.9 630.1H136.8M126.9 537.2H136.8M126.9 444.2H136.8M126.9 351.3H136.8M126.9 258.4H136.8M126.9 165.4H136.8M126.9 72.5H136.8M175.7 630.1V639.8M331.1 630.1V639.8M486.5 630.1V639.8M642 630.1V639.8M797.4 630.1V639.8M952.8 630.1V639.8" stroke="#000" stroke-width="4.1" fill="none"/>
<g font-size="33.3">
<text x="120.3" y="640.5" text-anchor="end">850</text>
<text x="120.3" y="547.6" text-anchor="end">900</text>
<text x="120.3" y="454.6" text-anchor="end">950</text>
<text x="120.3" y="361.7" text-anchor="end">1000</text>
<text x="120.3" y="268.8" text-anchor="end">1050</text>
<text x="120.3" y="175.8" text-anchor="end">1100</text>
<text x="120.3" y="82.9" text-anchor="end">1150</text>
<text x="175.7" y="672.6" text-anchor="middle">0</text>
<text x="331.1" y="672.6" text-anchor="middle">200</text>
<text x="486.5" y="672.6" text-anchor="middle">400</text>
<text x="642" y="672.6" text-anchor="middle">600</text>
<text x="797.4" y="672.6" text-anchor="middle">800</text>
<text x="952.8" y="672.6" text-anchor="middle">1000</text>
<circle cx="222.6" cy="449.7" r="11.1" fill="#fde725"/>
<text x="269.4" y="461.4">Vu=2.60</text>
<circle cx="222.6" cy="491.5" r="11.1" fill="#6ccd5a"/>
<text x="269.4" y="503.1">Vu=3.05</text>
<circle cx="222.6" cy="533.3" r="11.1" fill="#1f9e89"/>
<text x="269.4" y="544.8">Vu=3.20</text>
<line x1="185.7" x2="259.7" y1="575.2" y2="575.2" stroke="#ff0000" stroke-width="5.5" stroke-linecap="round"/>
<text x="269.1" y="586.9">Real SOH</text>
</g>
<text x="584" y="734.3" font-size="42.7" text-anchor="middle">Cycle</text>
<text x="31.8" y="322" font-size="42.7" text-anchor="middle" transform="rotate(-90 31.8 322)">Estimated Capacity (mAh)</text>
<text x="1.9" y="33.8" font-size="65" font-weight="bold">a</text>
<clipPath id="ci"><rect x="639.1" y="45.3" width="347.1" height="247.2"/></clipPath>
<rect x="639.1" y="45.3" width="347.1" height="247.2" fill="#fff"/>
<g clip-path="url(#ci)" stroke-linejoin="round">
<polygon points="800,292.4 800.6,292.4 801.2,292.4 801.8,292.3 802.4,292.2 803,292.2 803.6,292 804.2,291.8 804.9,291.6 805.5,291.3 806.1,290.9 806.7,290.4 807.3,289.8 807.9,288.9 808.5,287.9 809.1,286.7 809.7,285.1 810.3,283.2 810.9,280.9 811.5,278.2 812.1,275 812.7,271.2 813.3,266.8 814,261.7 814.6,256 815.2,249.5 815.8,242.4 816.4,234.5 817,225.9 817.6,216.6 818.2,206.8 818.8,196.5 819.4,185.9 820,175 820.6,164.1 821.2,153.3 821.8,142.8 822.4,132.9 823.1,123.7 823.7,115.4 824.3,108.3 824.9,102.4 825.5,97.9 826.1,94.9 826.7,93.6 827.3,93.9 827.9,95.7 828.5,99.2 829.1,104.2 829.7,110.5 830.3,118 830.9,126.6 831.6,136.1 832.2,146.2 832.8,156.8 833.4,167.7 834,178.6 834.6,189.4 835.2,200 835.8,210.1 836.4,219.7 837,228.8 837.6,237.1 838.2,244.8 838.8,251.7 839.4,258 840,263.5 840.7,268.3 841.3,272.5 841.9,276.1 842.5,279.1 843.1,281.7 843.7,283.9 844.3,285.7 844.9,287.1 845.5,288.3 846.1,289.2 846.7,290 847.3,290.6 847.9,291.1 848.5,291.4 849.1,291.7 849.8,291.9 850.4,292.1 851,292.2 851.6,292.3 852.2,292.3 852.8,292.4 853.4,292.4 854,292.4 854,292.5 800,292.5" fill="#fde725" fill-opacity="0.27"/>
<polyline points="800,292.4 800.6,292.4 801.2,292.4 801.8,292.3 802.4,292.2 803,292.2 803.6,292 804.2,291.8 804.9,291.6 805.5,291.3 806.1,290.9 806.7,290.4 807.3,289.8 807.9,288.9 808.5,287.9 809.1,286.7 809.7,285.1 810.3,283.2 810.9,280.9 811.5,278.2 812.1,275 812.7,271.2 813.3,266.8 814,261.7 814.6,256 815.2,249.5 815.8,242.4 816.4,234.5 817,225.9 817.6,216.6 818.2,206.8 818.8,196.5 819.4,185.9 820,175 820.6,164.1 821.2,153.3 821.8,142.8 822.4,132.9 823.1,123.7 823.7,115.4 824.3,108.3 824.9,102.4 825.5,97.9 826.1,94.9 826.7,93.6 827.3,93.9 827.9,95.7 828.5,99.2 829.1,104.2 829.7,110.5 830.3,118 830.9,126.6 831.6,136.1 832.2,146.2 832.8,156.8 833.4,167.7 834,178.6 834.6,189.4 835.2,200 835.8,210.1 836.4,219.7 837,228.8 837.6,237.1 838.2,244.8 838.8,251.7 839.4,258 840,263.5 840.7,268.3 841.3,272.5 841.9,276.1 842.5,279.1 843.1,281.7 843.7,283.9 844.3,285.7 844.9,287.1 845.5,288.3 846.1,289.2 846.7,290 847.3,290.6 847.9,291.1 848.5,291.4 849.1,291.7 849.8,291.9 850.4,292.1 851,292.2 851.6,292.3 852.2,292.3 852.8,292.4 853.4,292.4 854,292.4" fill="none" stroke="#fde725" stroke-width="4.6"/>
<polygon points="758,292.4 759.3,292.4 760.7,292.3 762,292.3 763.3,292.2 764.6,292.1 766,292 767.3,291.8 768.6,291.6 769.9,291.3 771.3,291 772.6,290.6 773.9,290.1 775.2,289.4 776.6,288.6 777.9,287.7 779.2,286.6 780.5,285.2 781.9,283.7 783.2,281.9 784.5,279.8 785.8,277.3 787.2,274.6 788.5,271.5 789.8,268.1 791.1,264.3 792.5,260.2 793.8,255.7 795.1,250.9 796.4,245.9 797.8,240.6 799.1,235.1 800.4,229.5 801.8,223.9 803.1,218.3 804.4,212.8 805.7,207.6 807.1,202.7 808.4,198.1 809.7,194.1 811,190.7 812.4,187.9 813.7,185.8 815,184.5 816.3,183.9 817.7,184.2 819,185.2 820.3,187 821.6,189.5 823,192.7 824.3,196.5 825.6,200.8 826.9,205.6 828.3,210.7 829.6,216.1 830.9,221.6 832.2,227.3 833.6,232.9 834.9,238.4 836.2,243.8 837.6,248.9 838.9,253.8 840.2,258.4 841.5,262.7 842.9,266.6 844.2,270.2 845.5,273.4 846.8,276.3 848.2,278.8 849.5,281.1 850.8,283 852.1,284.7 853.5,286.1 854.8,287.3 856.1,288.3 857.4,289.1 858.8,289.8 860.1,290.4 861.4,290.8 862.7,291.2 864.1,291.5 865.4,291.7 866.7,291.9 868,292.1 869.4,292.2 870.7,292.3 872,292.3 873.3,292.4 874.7,292.4 876,292.4 876,292.5 758,292.5" fill="#fff" fill-opacity="0.5"/>
<polygon points="758,292.4 759.3,292.4 760.7,292.3 762,292.3 763.3,292.2 764.6,292.1 766,292 767.3,291.8 768.6,291.6 769.9,291.3 771.3,291 772.6,290.6 773.9,290.1 775.2,289.4 776.6,288.6 777.9,287.7 779.2,286.6 780.5,285.2 781.9,283.7 783.2,281.9 784.5,279.8 785.8,277.3 787.2,274.6 788.5,271.5 789.8,268.1 791.1,264.3 792.5,260.2 793.8,255.7 795.1,250.9 796.4,245.9 797.8,240.6 799.1,235.1 800.4,229.5 801.8,223.9 803.1,218.3 804.4,212.8 805.7,207.6 807.1,202.7 808.4,198.1 809.7,194.1 811,190.7 812.4,187.9 813.7,185.8 815,184.5 816.3,183.9 817.7,184.2 819,185.2 820.3,187 821.6,189.5 823,192.7 824.3,196.5 825.6,200.8 826.9,205.6 828.3,210.7 829.6,216.1 830.9,221.6 832.2,227.3 833.6,232.9 834.9,238.4 836.2,243.8 837.6,248.9 838.9,253.8 840.2,258.4 841.5,262.7 842.9,266.6 844.2,270.2 845.5,273.4 846.8,276.3 848.2,278.8 849.5,281.1 850.8,283 852.1,284.7 853.5,286.1 854.8,287.3 856.1,288.3 857.4,289.1 858.8,289.8 860.1,290.4 861.4,290.8 862.7,291.2 864.1,291.5 865.4,291.7 866.7,291.9 868,292.1 869.4,292.2 870.7,292.3 872,292.3 873.3,292.4 874.7,292.4 876,292.4 876,292.5 758,292.5" fill="#6ccd5a" fill-opacity="0.27"/>
<polyline points="758,292.4 759.3,292.4 760.7,292.3 762,292.3 763.3,292.2 764.6,292.1 766,292 767.3,291.8 768.6,291.6 769.9,291.3 771.3,291 772.6,290.6 773.9,290.1 775.2,289.4 776.6,288.6 777.9,287.7 779.2,286.6 780.5,285.2 781.9,283.7 783.2,281.9 784.5,279.8 785.8,277.3 787.2,274.6 788.5,271.5 789.8,268.1 791.1,264.3 792.5,260.2 793.8,255.7 795.1,250.9 796.4,245.9 797.8,240.6 799.1,235.1 800.4,229.5 801.8,223.9 803.1,218.3 804.4,212.8 805.7,207.6 807.1,202.7 808.4,198.1 809.7,194.1 811,190.7 812.4,187.9 813.7,185.8 815,184.5 816.3,183.9 817.7,184.2 819,185.2 820.3,187 821.6,189.5 823,192.7 824.3,196.5 825.6,200.8 826.9,205.6 828.3,210.7 829.6,216.1 830.9,221.6 832.2,227.3 833.6,232.9 834.9,238.4 836.2,243.8 837.6,248.9 838.9,253.8 840.2,258.4 841.5,262.7 842.9,266.6 844.2,270.2 845.5,273.4 846.8,276.3 848.2,278.8 849.5,281.1 850.8,283 852.1,284.7 853.5,286.1 854.8,287.3 856.1,288.3 857.4,289.1 858.8,289.8 860.1,290.4 861.4,290.8 862.7,291.2 864.1,291.5 865.4,291.7 866.7,291.9 868,292.1 869.4,292.2 870.7,292.3 872,292.3 873.3,292.4 874.7,292.4 876,292.4" fill="none" stroke="#6ccd5a" stroke-width="4.6"/>
<polygon points="600,292.4 604.4,292.3 608.8,292.3 613.1,292.2 617.5,292.1 621.9,292 626.3,291.8 630.7,291.6 635.1,291.4 639.4,291.1 643.8,290.8 648.2,290.4 652.6,289.9 657,289.3 661.3,288.6 665.7,287.8 670.1,286.9 674.5,285.8 678.9,284.6 683.3,283.2 687.6,281.6 692,279.8 696.4,277.9 700.8,275.7 705.2,273.4 709.6,270.9 713.9,268.2 718.3,265.4 722.7,262.4 727.1,259.3 731.5,256.1 735.8,252.9 740.2,249.7 744.6,246.5 749,243.4 753.4,240.5 757.8,237.7 762.1,235.1 766.5,232.9 770.9,230.9 775.3,229.3 779.7,228 784,227.2 788.4,226.8 792.8,226.8 797.2,227.2 801.6,228 806,229.3 810.3,230.9 814.7,232.9 819.1,235.2 823.5,237.7 827.9,240.5 832.2,243.5 836.6,246.6 841,249.7 845.4,253 849.8,256.2 854.2,259.3 858.5,262.4 862.9,265.4 867.3,268.2 871.7,270.9 876.1,273.4 880.4,275.8 884.8,277.9 889.2,279.9 893.6,281.6 898,283.2 902.4,284.6 906.7,285.8 911.1,286.9 915.5,287.8 919.9,288.6 924.3,289.3 928.7,289.9 933,290.4 937.4,290.8 941.8,291.1 946.2,291.4 950.6,291.6 954.9,291.8 959.3,292 963.7,292.1 968.1,292.2 972.5,292.3 976.9,292.3 981.2,292.4 985.6,292.4 990,292.4 990,292.5 600,292.5" fill="#fff" fill-opacity="0.65"/>
<polygon points="600,292.4 604.4,292.3 608.8,292.3 613.1,292.2 617.5,292.1 621.9,292 626.3,291.8 630.7,291.6 635.1,291.4 639.4,291.1 643.8,290.8 648.2,290.4 652.6,289.9 657,289.3 661.3,288.6 665.7,287.8 670.1,286.9 674.5,285.8 678.9,284.6 683.3,283.2 687.6,281.6 692,279.8 696.4,277.9 700.8,275.7 705.2,273.4 709.6,270.9 713.9,268.2 718.3,265.4 722.7,262.4 727.1,259.3 731.5,256.1 735.8,252.9 740.2,249.7 744.6,246.5 749,243.4 753.4,240.5 757.8,237.7 762.1,235.1 766.5,232.9 770.9,230.9 775.3,229.3 779.7,228 784,227.2 788.4,226.8 792.8,226.8 797.2,227.2 801.6,228 806,229.3 810.3,230.9 814.7,232.9 819.1,235.2 823.5,237.7 827.9,240.5 832.2,243.5 836.6,246.6 841,249.7 845.4,253 849.8,256.2 854.2,259.3 858.5,262.4 862.9,265.4 867.3,268.2 871.7,270.9 876.1,273.4 880.4,275.8 884.8,277.9 889.2,279.9 893.6,281.6 898,283.2 902.4,284.6 906.7,285.8 911.1,286.9 915.5,287.8 919.9,288.6 924.3,289.3 928.7,289.9 933,290.4 937.4,290.8 941.8,291.1 946.2,291.4 950.6,291.6 954.9,291.8 959.3,292 963.7,292.1 968.1,292.2 972.5,292.3 976.9,292.3 981.2,292.4 985.6,292.4 990,292.4 990,292.5 600,292.5" fill="#2a7f8d" fill-opacity="0.27"/>
<polyline points="600,292.4 604.4,292.3 608.8,292.3 613.1,292.2 617.5,292.1 621.9,292 626.3,291.8 630.7,291.6 635.1,291.4 639.4,291.1 643.8,290.8 648.2,290.4 652.6,289.9 657,289.3 661.3,288.6 665.7,287.8 670.1,286.9 674.5,285.8 678.9,284.6 683.3,283.2 687.6,281.6 692,279.8 696.4,277.9 700.8,275.7 705.2,273.4 709.6,270.9 713.9,268.2 718.3,265.4 722.7,262.4 727.1,259.3 731.5,256.1 735.8,252.9 740.2,249.7 744.6,246.5 749,243.4 753.4,240.5 757.8,237.7 762.1,235.1 766.5,232.9 770.9,230.9 775.3,229.3 779.7,228 784,227.2 788.4,226.8 792.8,226.8 797.2,227.2 801.6,228 806,229.3 810.3,230.9 814.7,232.9 819.1,235.2 823.5,237.7 827.9,240.5 832.2,243.5 836.6,246.6 841,249.7 845.4,253 849.8,256.2 854.2,259.3 858.5,262.4 862.9,265.4 867.3,268.2 871.7,270.9 876.1,273.4 880.4,275.8 884.8,277.9 889.2,279.9 893.6,281.6 898,283.2 902.4,284.6 906.7,285.8 911.1,286.9 915.5,287.8 919.9,288.6 924.3,289.3 928.7,289.9 933,290.4 937.4,290.8 941.8,291.1 946.2,291.4 950.6,291.6 954.9,291.8 959.3,292 963.7,292.1 968.1,292.2 972.5,292.3 976.9,292.3 981.2,292.4 985.6,292.4 990,292.4" fill="none" stroke="#2a7f8d" stroke-width="4.6"/>
</g>
<rect x="639.1" y="45.3" width="347.1" height="247.2" fill="none" stroke="#000" stroke-width="4.1"/>
<path d="M635.9 292.5H639.1M635.9 230.7H639.1M635.9 168.9H639.1M635.9 107.1H639.1M635.9 45.3H639.1M664.4 292.5V295.8M713.8 292.5V295.8M763.2 292.5V295.8M812.6 292.5V295.8M862 292.5V295.8M911.4 292.5V295.8M960.8 292.5V295.8" stroke="#000" stroke-width="3.6" fill="none"/>
<g font-size="31.2" text-anchor="end">
<text x="635.4" y="302.5">0.00</text>
<text x="635.4" y="240.7">0.03</text>
<text x="635.4" y="178.9">0.06</text>
<text x="635.4" y="117.1">0.09</text>
<text x="635.4" y="55.3">0.12</text>
</g>
<g font-size="28" text-anchor="middle">
<text x="664.4" y="320">−60</text>
<text x="713.8" y="320">−40</text>
<text x="763.2" y="320">−20</text>
<text x="812.6" y="320">0</text>
<text x="862" y="320">20</text>
<text x="911.4" y="320">40</text>
<text x="960.8" y="320">60</text>
</g>
<text x="812.9" y="364.4" font-size="30.8" text-anchor="middle">Estimated error (mAh)</text>
<text x="567.3" y="168.5" font-size="31.2" text-anchor="middle" transform="rotate(-90 567.3 168.5)">Density</text>
<rect x="868.9" y="59.8" width="45.5" height="21.5" fill="#fde725" fill-opacity="0.27" stroke="none"/>
<rect x="868.9" y="59.8" width="45.5" height="21.5" fill="none" stroke="#fde725" stroke-opacity="0.85" stroke-width="5.4"/>
<text x="921.4" y="77.5" font-size="26.5">2.60</text>
<rect x="868.9" y="92.9" width="45.5" height="21.5" fill="#6ccd5a" fill-opacity="0.27" stroke="none"/>
<rect x="868.9" y="92.9" width="45.5" height="21.5" fill="none" stroke="#6ccd5a" stroke-opacity="0.85" stroke-width="5.4"/>
<text x="921.4" y="111.1" font-size="26.5">3.05</text>
<rect x="868.9" y="126" width="45.5" height="21.5" fill="#2a7f8d" fill-opacity="0.27" stroke="none"/>
<rect x="868.9" y="126" width="45.5" height="21.5" fill="none" stroke="#2a7f8d" stroke-opacity="0.85" stroke-width="5.4"/>
<text x="921.4" y="144.7" font-size="26.5">3.20</text>
<!-- panel b -->
<rect x="1241.7" y="16.1" width="748.8" height="614.3" fill="none" stroke="#000" stroke-width="4.1"/>
<clipPath id="cb"><rect x="1241.7" y="14" width="746.8" height="616.4"/></clipPath>
<g clip-path="url(#cb)" fill="none" stroke-linecap="round" stroke-linejoin="round">
<polyline stroke="#31688d" stroke-width="10.5" points="1750.9,205.4 1747.7,208 1744.5,212 1741.3,214 1738,214.9 1734.8,217.3 1731.6,219.4 1728.4,222.3 1725.2,224.9 1722,227.6 1718.7,229.1 1715.5,233.4 1712.3,235.2 1709.1,237 1705.9,240.8 1702.7,240.3 1699.4,244.2 1696.2,245.7 1693,245.8 1689.8,250.5 1686.6,252.3 1683.4,252.5 1680.1,256.9 1676.9,258.4 1673.7,259.6 1670.5,261.7 1667.3,263.7 1664.1,266 1660.9,267.2 1657.6,269.6 1654.4,272.1 1651.2,275.4 1648,277.5 1644.8,280.7 1641.6,280.6 1638.3,284.8 1635.1,284.4 1631.9,285.5 1628.7,290.1 1625.5,291.7 1622.3,293.5 1619,294.3 1615.8,297.8 1612.6,299.1 1609.4,301.4 1606.2,303.2 1603,303.8 1599.7,307.8 1596.5,308.8 1593.3,310.6 1590.1,312.1 1586.9,315.9 1583.7,315.8 1580.5,318.4 1577.2,320.5 1574,323.7 1570.8,327.7 1567.6,329.3 1564.4,330.5 1561.2,333.6 1557.9,336.2 1554.7,337 1551.5,339.1 1548.3,343.6 1545.1,344.3 1541.9,350.3 1538.6,352.8 1535.4,352.7 1532.2,356.2 1529,357.9 1525.8,360.4 1522.6,363.4"/>
<polyline stroke="#31688d" stroke-width="10.5" points="2005.5,35.5 2002.3,38.3 1999.1,42 1995.9,43.1 1992.6,45.5 1989.4,46.6 1986.2,51.3 1983,52.9 1979.8,55.6 1976.6,57.8 1973.3,58.8 1970.1,62.2 1966.9,65.3 1963.7,67.2 1960.5,69.1 1957.3,72.9 1954,74.7 1950.8,75.7 1947.6,78.7 1944.4,81.8 1941.2,84.4 1938,86.5 1934.7,89.8 1931.5,90.2 1928.3,92.9 1925.1,95.4 1921.9,98.8 1918.7,100.6 1915.5,102 1912.2,104.4 1909,107.3 1905.8,108.8 1902.6,110.8 1899.4,114.3 1896.2,116.5 1892.9,119 1889.7,121.6 1886.5,122.6 1883.3,125.3 1880.1,127.9 1876.9,131.6 1873.6,134 1870.4,135.7 1867.2,138.5 1864,140.6 1860.8,143.7 1857.6,145.2 1854.3,146.8 1851.1,149.5 1847.9,151.9 1844.7,155.6 1841.5,157.5 1838.3,160.9 1835.1,162.3 1831.8,165.7 1828.6,168.1 1825.4,170.6 1822.2,171.9 1819,174.6 1815.8,177 1812.5,180.4 1809.3,181.7 1806.1,185.3 1802.9,185.4 1799.7,189 1796.5,191.1 1793.2,193.7 1790,197.2 1786.8,199.4 1783.6,200.7 1780.4,201.9 1777.2,206.2 1773.9,208.2 1770.7,210.1 1767.5,213.7 1764.3,216.1 1761.1,217.4 1757.9,219.5 1754.7,222.1 1751.4,223 1748.2,226.6 1745,228.5 1741.8,229.9 1738.6,232.1 1735.4,237 1732.1,238.3 1728.9,239.5 1725.7,243.7 1722.5,245.7 1719.3,248.3 1716.1,250.7 1712.8,252.8 1709.6,254.1 1706.4,255.6 1703.2,257.7 1700,261.2 1696.8,265 1693.5,265.9 1690.3,268.4 1687.1,270.2 1683.9,272.8 1680.7,276.4 1677.5,277.1 1674.3,281.3 1671,282.5 1667.8,284.1 1664.6,286.4 1661.4,287.8 1658.2,293.2 1655,293.5 1651.7,295.5 1648.5,298.7 1645.3,300.3 1642.1,303.9 1638.9,304.9 1635.7,307.4 1632.4,310.9 1629.2,313 1626,315 1622.8,317.7 1619.6,318.7"/>
<polyline stroke="#31688d" stroke-width="10.5" points="1490.9,414.9 1487.7,415.7 1484.5,418 1481.3,421.3 1478.1,423.6 1474.9,426.5 1471.6,428.5 1468.4,430.5 1465.2,431.4 1462,434.8 1458.8,435.8 1455.6,437.8 1452.3,440.6 1449.1,442.3 1445.9,442.6 1442.7,444.5 1439.5,449.2 1436.3,450.7 1433.1,452.9 1429.8,454.9 1426.6,455 1423.4,458 1420.2,459.5 1417,461 1413.8,465.5 1410.5,467.3 1407.3,469.1 1404.1,470.1 1400.9,473.4 1397.7,474.7 1394.5,476.2 1391.2,478.3 1388,481.2 1384.8,484.6 1381.6,487.5 1378.4,486.7 1375.2,489.5 1371.9,493.1 1368.7,494.7 1365.5,496.7 1362.3,500.1"/>
<polyline stroke="#31688d" stroke-width="10.5" points="2002.8,-7.8 1999.6,-3.2 1996.4,-2 1993.2,-2 1990,2.2 1986.7,3.1 1983.5,6.1 1980.3,9.7 1977.1,12.5 1973.9,11.3 1970.7,18.5 1967.4,17.3 1964.2,25.5 1961,24.6 1957.8,28.5 1954.6,33.1 1951.4,40.1 1948.1,33.6 1944.9,42.4 1941.7,44.8 1938.5,45.2 1935.3,47.9 1932.1,49.9 1928.9,53.6 1925.6,58.8 1922.4,56.1 1919.2,62.4 1916,62.3 1912.8,63.9 1909.6,65 1906.3,70.5 1903.1,73.4 1899.9,76.3 1896.7,82.9 1893.5,83.6 1890.3,87.2 1887,90.2 1883.8,89.5 1880.6,92.7 1877.4,90.7 1874.2,93.1 1871,103 1867.7,101.4 1864.5,106.6 1861.3,106 1858.1,109.7 1854.9,110.9 1851.7,115 1848.5,116.7 1845.2,121.8 1842,129.4 1838.8,129.3 1835.6,131.3 1832.4,133.2 1829.2,137.1 1825.9,134 1822.7,140.7 1819.5,140.3 1816.3,146.7 1813.1,145.1 1809.9,154.1 1806.6,153 1803.4,159.9 1800.2,158.7 1797,158.9 1793.8,168.7 1790.6,169.7 1787.3,170 1784.1,173.7 1780.9,179.1 1777.7,176.3 1774.5,181.5 1771.3,181.5 1768.1,186.3 1764.8,192.2 1761.6,193.4 1758.4,192 1755.2,200.9 1752,201.7 1748.8,202.1 1745.5,204 1742.3,207.2 1739.1,214.9 1735.9,209.8 1732.7,217.4 1729.5,219.6 1726.2,222.3 1723,225.6 1719.8,230 1716.6,231.4 1713.4,230.6 1710.2,239.3 1706.9,244.2 1703.7,240.2 1700.5,243.2 1697.3,244.9 1694.1,245.2 1690.9,253.3 1687.7,254.1 1684.4,256.2 1681.2,257.5 1678,260.7 1674.8,267.6 1671.6,271.4 1668.4,271.5 1665.1,277 1661.9,273.6 1658.7,279.4 1655.5,281.8 1652.3,285.5 1649.1,282.7 1645.8,287.9 1642.6,292 1639.4,292.5 1636.2,296.8 1633,298.1 1629.8,299.3 1626.5,305.5 1623.3,306.6 1620.1,309.4 1616.9,310.8 1613.7,314.8 1610.5,318.7 1607.3,322.6 1604,323 1600.8,328.3 1597.6,327 1594.4,330.8 1591.2,332.7 1588,337.9 1584.7,341.4 1581.5,344.6 1578.3,343 1575.1,348.5 1571.9,351 1568.7,357 1565.4,355.7 1562.2,365.7 1559,357.5 1555.8,363.4 1552.6,365.2 1549.4,370.8 1546.1,372.5 1542.9,371.5 1539.7,376 1536.5,377.4 1533.3,378.3 1530.1,382.4 1526.9,390.9 1523.6,391.8 1520.4,395 1517.2,397.5 1514,402.9 1510.8,405.6 1507.6,405.4 1504.3,407.7 1501.1,407.9 1497.9,412.4 1494.7,411.1 1491.5,420.5 1488.3,421.9 1485,420.7 1481.8,424.2 1478.6,428.3 1475.4,427 1472.2,428.9 1469,431.1 1465.7,437.4 1462.5,439.3 1459.3,441.6 1456.1,444.8 1452.9,445.5 1449.7,451.6 1446.5,452.5 1443.2,460.8 1440,457 1436.8,457.8 1433.6,464.1 1430.4,464.4 1427.2,473 1423.9,472.8 1420.7,478.1 1417.5,476.7 1414.3,478.8 1411.1,485.4 1407.9,486.6 1404.6,488.4 1401.4,484.3 1398.2,492.2 1395,494.4 1391.8,496.5 1388.6,499.3 1385.3,503.2 1382.1,508.2 1378.9,509.6 1375.7,507.2 1372.5,513 1369.3,517.2 1366.1,522.1 1362.8,521.8 1359.6,524.2 1356.4,528.3 1353.2,527.5 1350,533.4 1346.8,535.1 1343.5,535.4 1340.3,539.4 1337.1,540 1333.9,545.5 1330.7,549 1327.5,550 1324.2,553.6 1321,554.5 1317.8,559.3 1314.6,562.6 1311.4,563.9 1308.2,565.7 1304.9,571.9 1301.7,572.1 1298.5,575.1 1295.3,574.3 1292.1,580.6 1288.9,579.8 1285.7,587.5 1282.4,587.3 1279.2,587.1"/>
<polyline stroke="#2e6e8e" stroke-width="10.5" points="2002.8,-1.1 1999.6,-1.2 1996.4,6.8 1993.2,5.6 1990,7.7 1986.7,10.6 1983.5,15.7 1980.3,14.7 1977.1,22.7 1973.9,19.7 1970.7,23.6 1967.4,25 1964.2,29.9 1961,34 1957.8,35.7 1954.6,38.2 1951.4,39.1 1948.1,43.5 1944.9,45 1941.7,47.6 1938.5,48.7 1935.3,57.3 1932.1,57 1928.9,57.6 1925.6,60.1 1922.4,64.8 1919.2,66.8 1916,68.9 1912.8,71 1909.6,74.6 1906.3,77.2 1903.1,80.8 1899.9,82.5 1896.7,82.3 1893.5,89.4 1890.3,89 1887,90 1883.8,95.3 1880.6,93.8 1877.4,100.4 1874.2,99.5 1871,105 1867.7,109.8 1864.5,109.8 1861.3,109.9 1858.1,117 1854.9,117.9 1851.7,123.2 1848.5,125.7 1845.2,126.1 1842,129.9 1838.8,131.3 1835.6,132.8 1832.4,139.8 1829.2,141.6 1825.9,143 1822.7,141.7 1819.5,149.1 1816.3,152.1 1813.1,153.2 1809.9,153 1806.6,160.5 1803.4,162.7 1800.2,164.7 1797,166.1 1793.8,166.3 1790.6,175 1787.3,178.4 1784.1,177.9 1780.9,180 1777.7,187.6 1774.5,187.5 1771.3,187.4 1768.1,192.6 1764.8,193.5 1761.6,196.7 1758.4,198.5 1755.2,201.6 1752,204.6 1748.8,205.6 1745.5,211.6 1742.3,213.1 1739.1,214 1735.9,219.6 1732.7,221.9 1729.5,225.2 1726.2,228.2 1723,225.7 1719.8,231.1 1716.6,231.4 1713.4,236.2 1710.2,240.1 1706.9,243.3 1703.7,244.9 1700.5,247.9 1697.3,248.8 1694.1,254.4 1690.9,255.3 1687.7,257.5 1684.4,261.5 1681.2,264.3 1678,265.7 1674.8,268.3 1671.6,272.1 1668.4,274.6 1665.1,278.1 1661.9,278.7 1658.7,282.4 1655.5,287.5 1652.3,287.8 1649.1,288.7 1645.8,291.8 1642.6,296.5 1639.4,296.4 1636.2,299.3 1633,302.1 1629.8,303.2 1626.5,309.2 1623.3,310.3 1620.1,314.6 1616.9,315.2 1613.7,317.6 1610.5,321.5 1607.3,323.5 1604,328.7 1600.8,328.7 1597.6,334.3 1594.4,330.9 1591.2,335.6 1588,343.1 1584.7,348 1581.5,343.9 1578.3,350.5 1575.1,350.6 1571.9,356.4 1568.7,356.5 1565.4,360.4 1562.2,360.7 1559,364.8 1555.8,364.1 1552.6,370.4 1549.4,369.3 1546.1,374 1542.9,375.8 1539.7,382.2 1536.5,385.3 1533.3,383.1 1530.1,389.8 1526.9,391.1 1523.6,393.9 1520.4,397.8 1517.2,398.7 1514,404.4 1510.8,406.7 1507.6,405.7 1504.3,411.3 1501.1,411.3 1497.9,414.1 1494.7,415.1 1491.5,419.3 1488.3,425.8 1485,426.1 1481.8,428.1 1478.6,427.8 1475.4,431.9 1472.2,436 1469,437 1465.7,441 1462.5,442.1 1459.3,445.6 1456.1,446.7 1452.9,450.8 1449.7,452.4 1446.5,456.9 1443.2,458.3 1440,462.5 1436.8,463.8 1433.6,467.2 1430.4,470.5 1427.2,473.7 1423.9,476.1 1420.7,477.4 1417.5,485 1414.3,481.3 1411.1,490.1 1407.9,488.8 1404.6,491.5 1401.4,492 1398.2,495.4 1395,498.6 1391.8,501 1388.6,502.1 1385.3,502.3 1382.1,508.4 1378.9,515.4 1375.7,515.3 1372.5,516.5 1369.3,514.2 1366.1,524.1 1362.8,526 1359.6,527 1356.4,530 1353.2,535.5 1350,534.1 1346.8,540.7 1343.5,541.4 1340.3,541.2 1337.1,548.5 1333.9,549.4 1330.7,548.8 1327.5,555.1 1324.2,559.4 1321,561.6 1317.8,562 1314.6,568.7 1311.4,569.4 1308.2,573.2 1304.9,575.1 1301.7,573.2 1298.5,578.1 1295.3,581.4 1292.1,582.5 1288.9,587.1 1285.7,590.5 1282.4,588.8"/>
<polyline stroke="#31688d" stroke-width="10.5" points="2002.8,7.6 1999.6,13.5 1996.4,12.8 1993.2,13.7 1990,18 1986.7,20.4 1983.5,26.6 1980.3,27.1 1977.1,33.3 1973.9,30.1 1970.7,35.4 1967.4,35.1 1964.2,41.9 1961,41.3 1957.8,48.9 1954.6,49.2 1951.4,50 1948.1,53.1 1944.9,56.7 1941.7,62.6 1938.5,59.5 1935.3,63.4 1932.1,64.9 1928.9,67.5 1925.6,73 1922.4,74 1919.2,72 1916,81.4 1912.8,81.4 1909.6,85.8 1906.3,83.7 1903.1,89.5 1899.9,94.9 1896.7,97 1893.5,101.5 1890.3,106.2 1887,109.7 1883.8,108 1880.6,111.2 1877.4,110.9 1874.2,115.2 1871,115.6 1867.7,115.3 1864.5,123.9 1861.3,126.7 1858.1,125.1 1854.9,125.1 1851.7,134.2 1848.5,138.5 1845.2,138.4 1842,141.3 1838.8,141.7 1835.6,147.9 1832.4,149 1829.2,151.7 1825.9,156.9 1822.7,159.6 1819.5,158.2 1816.3,160.7 1813.1,166.1 1809.9,164.1 1806.6,168 1803.4,171.6 1800.2,174 1797,177.1 1793.8,179 1790.6,181.3 1787.3,185.6 1784.1,192.6 1780.9,191.4 1777.7,195.5 1774.5,198.9 1771.3,197.9 1768.1,205.3 1764.8,202.7 1761.6,208.3 1758.4,212.1 1755.2,214 1752,210.3 1748.8,214.7 1745.5,220.9 1742.3,220.9 1739.1,222.1 1735.9,230 1732.7,231.5 1729.5,231.7 1726.2,235.3 1723,239.5 1719.8,238.2 1716.6,243.2 1713.4,245.3 1710.2,244.8 1706.9,251.2 1703.7,249.3 1700.5,256.6 1697.3,260 1694.1,261.9 1690.9,263.1 1687.7,266.2 1684.4,269.5 1681.2,276 1678,277.9 1674.8,278.9 1671.6,279.5 1668.4,280.6 1665.1,291 1661.9,289 1658.7,292.2 1655.5,294 1652.3,295.9 1649.1,300.6 1645.8,304.1 1642.6,302 1639.4,305.2 1636.2,310.3 1633,312.4 1629.8,316.3 1626.5,320.5 1623.3,319 1620.1,324.4 1616.9,328.1 1613.7,329.8 1610.5,328 1607.3,332.9 1604,335.8 1600.8,338.5 1597.6,339.5 1594.4,342.3 1591.2,349.2 1588,349.9 1584.7,353.5 1581.5,354.6 1578.3,358 1575.1,364.4 1571.9,360.6 1568.7,365 1565.4,371.6 1562.2,368.4 1559,372.9 1555.8,374.6 1552.6,378 1549.4,380.2 1546.1,384 1542.9,389.1 1539.7,389.7 1536.5,390.8 1533.3,393.8 1530.1,395.3 1526.9,399.6 1523.6,406.8 1520.4,403.6 1517.2,409.5 1514,413.5 1510.8,414.1 1507.6,418.9 1504.3,418 1501.1,423.3 1497.9,420.2 1494.7,427.1 1491.5,430.1 1488.3,432.8 1485,438.2 1481.8,438.1 1478.6,440.4 1475.4,442.2 1472.2,448.6 1469,446.7 1465.7,446.8 1462.5,452.9 1459.3,454.9 1456.1,456.7 1452.9,461.9 1449.7,463.9 1446.5,463.9 1443.2,468.1 1440,473.6 1436.8,477.4 1433.6,471.9 1430.4,478.2 1427.2,485 1423.9,484.1 1420.7,485.7 1417.5,489.5 1414.3,496.1 1411.1,491.1 1407.9,496 1404.6,500.1 1401.4,500.8 1398.2,505.1 1395,508 1391.8,508.2 1388.6,516.6 1385.3,513.2 1382.1,517.1 1378.9,519.1 1375.7,521.5 1372.5,522.9 1369.3,525.9 1366.1,529.7 1362.8,534.9 1359.6,535.3 1356.4,540.3 1353.2,543.8 1350,543.6 1346.8,546.4 1343.5,547.3 1340.3,556.6 1337.1,553.7 1333.9,556.1 1330.7,560.1 1327.5,560.3 1324.2,568 1321,568.4 1317.8,572.8 1314.6,574.5 1311.4,578.8 1308.2,579.6 1304.9,580.3 1301.7,583.8 1298.5,586 1295.3,590.8 1292.1,588.7 1288.9,595.9 1285.7,597.1 1282.4,598.4"/>
<polyline stroke="#2d708e" stroke-width="10.5" points="2002.8,6.9 1999.6,7.9 1996.4,11.2 1993.2,11.3 1990,15.5 1986.7,18.2 1983.5,22.7 1980.3,23.5 1977.1,25.4 1973.9,29 1970.7,33.8 1967.4,35.9 1964.2,38.1 1961,40.3 1957.8,45.2 1954.6,42.8 1951.4,48.5 1948.1,50.9 1944.9,54.5 1941.7,56.7 1938.5,56.3 1935.3,63.4 1932.1,65.3 1928.9,68.6 1925.6,70.4 1922.4,69.7 1919.2,75.6 1916,77.8 1912.8,82.4 1909.6,82.7 1906.3,84.2 1903.1,88.1 1899.9,90.8 1896.7,91.8 1893.5,95.2 1890.3,99 1887,102.7 1883.8,106.2 1880.6,103.6 1877.4,111 1874.2,110 1871,113.8 1867.7,117.3 1864.5,117.6 1861.3,122.8 1858.1,122.5 1854.9,128.7 1851.7,129 1848.5,130.4 1845.2,136.6 1842,134.5 1838.8,139.1 1835.6,146.4 1832.4,143.5 1829.2,145.3 1825.9,151.3 1822.7,153.8 1819.5,155.6 1816.3,161.8 1813.1,161.3 1809.9,162.8 1806.6,167.8 1803.4,167.8 1800.2,168.7 1797,177.8 1793.8,180.2 1790.6,181.1 1787.3,181.7 1784.1,184.7 1780.9,189.4 1777.7,192.4 1774.5,194.4 1771.3,193.3 1768.1,200 1764.8,202 1761.6,202.2 1758.4,206.7 1755.2,210.5 1752,209.4 1748.8,213.8 1745.5,218 1742.3,220.2 1739.1,220.8 1735.9,225.4 1732.7,227 1729.5,228.7 1726.2,231.1 1723,238.1 1719.8,238.7 1716.6,241.1 1713.4,243.1 1710.2,244.8 1706.9,246.7 1703.7,251.7 1700.5,255.3 1697.3,255.8 1694.1,259.5 1690.9,258.5 1687.7,263.3 1684.4,266.5 1681.2,267.7 1678,272.9 1674.8,275.1 1671.6,277.4 1668.4,278.7 1665.1,280.3 1661.9,283.7 1658.7,286.3 1655.5,290.4 1652.3,292 1649.1,295.5 1645.8,295.9 1642.6,301.2 1639.4,303.1 1636.2,305.3 1633,307.2 1629.8,312.2 1626.5,314.2 1623.3,317.8 1620.1,321.3 1616.9,320.3 1613.7,324 1610.5,329.7 1607.3,331.4 1604,331.6 1600.8,335.9 1597.6,339 1594.4,338 1591.2,343.5 1588,346.1 1584.7,347.5 1581.5,352.3 1578.3,353.9 1575.1,356.3 1571.9,357.9 1568.7,362.8 1565.4,362.6 1562.2,366.3 1559,366.5 1555.8,371.4 1552.6,375.1 1549.4,377.6 1546.1,381 1542.9,382 1539.7,384.8 1536.5,386 1533.3,390 1530.1,394.1 1526.9,394 1523.6,399.1 1520.4,400.8 1517.2,401.7 1514,404.8 1510.8,410.6 1507.6,412.3 1504.3,412.7 1501.1,415.9 1497.9,419.2 1494.7,421.2 1491.5,428.4 1488.3,428 1485,432.2 1481.8,433.5 1478.6,435.6 1475.4,436.9 1472.2,438.5 1469,441.7 1465.7,445.1 1462.5,448.8 1459.3,449 1456.1,453.3 1452.9,459.2 1449.7,459.3 1446.5,461.2 1443.2,466.1 1440,466.9 1436.8,467.6 1433.6,473 1430.4,475.4 1427.2,478 1423.9,482.1 1420.7,484 1417.5,487.5 1414.3,489 1411.1,492.3 1407.9,492 1404.6,496.2 1401.4,497.2 1398.2,503 1395,503.7 1391.8,505.4 1388.6,507.9 1385.3,512.6 1382.1,514.4 1378.9,516.8 1375.7,520.2 1372.5,523.1 1369.3,524.3 1366.1,529.7 1362.8,533.2 1359.6,533.8 1356.4,535.2 1353.2,541.8 1350,538.8 1346.8,543.3 1343.5,545.2 1340.3,550 1337.1,551.4 1333.9,551.1 1330.7,553.9 1327.5,558.7 1324.2,562.9 1321,565.5 1317.8,566.2 1314.6,571.8 1311.4,574.6 1308.2,575.8 1304.9,576.6 1301.7,582.1 1298.5,582.5 1295.3,585.1 1292.1,588.1 1288.9,591.2 1285.7,592.1 1282.4,595.1"/>
<path stroke="#31688d" stroke-width="10.5" d="M1334.2 532.5h0M1361 499.2h0M1367.7 504h0M1375.7 508.4h0M1407.9 513.9h0M1402.5 518.2h0M1330.1 570.9h0M1326.1 574.2h0M1332.8 566.5h0M1280.6 591.7h0M1279.2 598.3h0M1287.3 601.6h0M1295.3 598.3h0M1300.7 595h0M1300.7 578.6h0M1322.1 556.6h0M1370.3 523.7h0M1381.1 511.7h0M1493.6 441.5h0M1517.7 420.6h0M1528.5 412.9h0M1532.5 408.5h0M1511 419.5h0M1571.3 382.2h0M1769.7 181.5h0M1791.1 192.4h0M1536.5 360.3h0M1528.5 364.7h0M1624.9 294.5h0M1694.6 237.4h0M1426.6 491.9h0M1429.3 489.7h0M1394.5 521.5h0"/>
<path stroke="#32668d" stroke-width="10.5" d="M1764.3 194.6h0"/>
<path stroke="#2e6e8e" stroke-width="10.5" d="M1761.9 196h0M1759.5 197.4h0M1757.1 201.2h0M1754.7 205h0"/>
<path stroke="#2b768e" stroke-width="10.5" d="M1752.2 206.1h0M1749.8 205.5h0M1747.4 209h0"/>
<path stroke="#2e6e8e" stroke-width="10.5" d="M1745 213.6h0M1742.6 213.5h0"/>
<path stroke="#2b768e" stroke-width="10.5" d="M1740.2 215.6h0"/>
<path stroke="#2e6e8e" stroke-width="10.5" d="M1737.8 217.7h0M1735.4 219.6h0M1732.9 223.3h0M1730.5 223.4h0"/>
<path stroke="#2b768e" stroke-width="10.5" d="M1728.1 224.9h0"/>
<path stroke="#2e6e8e" stroke-width="10.5" d="M1725.7 225.4h0M1723.3 228h0M1720.9 234.9h0M1718.5 234.5h0"/>
<path stroke="#2b768e" stroke-width="10.5" d="M1716.1 237.1h0"/>
<path stroke="#2e6e8e" stroke-width="10.5" d="M1713.6 239h0"/>
<path stroke="#2b768e" stroke-width="10.5" d="M1711.2 240.5h0"/>
<path stroke="#26848d" stroke-width="10.5" d="M1708.8 240.7h0"/>
<path stroke="#2b768e" stroke-width="10.5" d="M1706.4 243.7h0M1704 244.3h0"/>
<path stroke="#2e6e8e" stroke-width="10.5" d="M1701.6 245.8h0"/>
<path stroke="#2b768e" stroke-width="10.5" d="M1699.2 247.7h0"/>
<path stroke="#287d8e" stroke-width="10.5" d="M1696.8 249.2h0"/>
<path stroke="#2e6e8e" stroke-width="10.5" d="M1694.4 251.5h0"/>
<path stroke="#287d8e" stroke-width="10.5" d="M1691.9 255.3h0"/>
<path stroke="#21938b" stroke-width="10.5" d="M1689.5 258.2h0"/>
<path stroke="#26848d" stroke-width="10.5" d="M1687.1 259.8h0"/>
<path stroke="#287d8e" stroke-width="10.5" d="M1684.7 260.7h0"/>
<path stroke="#32668d" stroke-width="10.5" d="M1682.3 264.2h0"/>
<path stroke="#2e6e8e" stroke-width="10.5" d="M1679.9 266h0M1677.5 267.1h0"/>
<path stroke="#2b768e" stroke-width="10.5" d="M1675.1 270.5h0M1672.6 270.3h0M1670.2 271.9h0M1667.8 275.8h0M1665.4 277.1h0M1663 278.8h0"/>
<path stroke="#287d8e" stroke-width="10.5" d="M1660.6 279.6h0"/>
<path stroke="#2b768e" stroke-width="10.5" d="M1658.2 284.1h0M1655.8 284.2h0"/>
<path stroke="#26848d" stroke-width="10.5" d="M1653.3 285.9h0"/>
<path stroke="#22a186" stroke-width="10.5" d="M1650.9 289.5h0"/>
<path stroke="#287d8e" stroke-width="10.5" d="M1648.5 291.1h0"/>
<path stroke="#2b768e" stroke-width="10.5" d="M1646.1 291.3h0M1643.7 294.4h0"/>
<path stroke="#287d8e" stroke-width="10.5" d="M1641.3 297.1h0"/>
<path stroke="#2b768e" stroke-width="10.5" d="M1638.9 299.5h0M1636.5 299.2h0M1634.1 303.1h0M1631.6 307.5h0"/>
<path stroke="#287d8e" stroke-width="10.5" d="M1629.2 307.1h0M1626.8 307h0"/>
<path stroke="#21938b" stroke-width="10.5" d="M1624.4 310.5h0"/>
<path stroke="#238c8c" stroke-width="10.5" d="M1622 311.3h0"/>
<path stroke="#2b768e" stroke-width="10.5" d="M1619.6 315.4h0"/>
<path stroke="#2e6e8e" stroke-width="10.5" d="M1617.2 316.8h0"/>
<path stroke="#287d8e" stroke-width="10.5" d="M1614.8 319.3h0"/>
<path stroke="#26848d" stroke-width="10.5" d="M1612.3 319.8h0M1609.9 322.7h0M1607.5 325.3h0"/>
<path stroke="#287d8e" stroke-width="10.5" d="M1605.1 326.4h0M1602.7 326.6h0"/>
<path stroke="#26848d" stroke-width="10.5" d="M1600.3 331h0"/>
<path stroke="#238c8c" stroke-width="10.5" d="M1597.9 332h0"/>
<path stroke="#287d8e" stroke-width="10.5" d="M1595.5 333.2h0M1593 335.7h0M1590.6 338.8h0M1588.2 339.3h0M1585.8 339.7h0"/>
<path stroke="#238c8c" stroke-width="10.5" d="M1583.4 345.3h0"/>
<path stroke="#219a89" stroke-width="10.5" d="M1581 348.9h0"/>
<path stroke="#287d8e" stroke-width="10.5" d="M1578.6 349.8h0M1576.2 353.1h0M1573.8 352.5h0M1571.3 354.7h0"/>
<path stroke="#26848d" stroke-width="10.5" d="M1568.9 354.7h0"/>
<path stroke="#238c8c" stroke-width="10.5" d="M1566.5 356.7h0M1564.1 361.3h0"/>
<path stroke="#287d8e" stroke-width="10.5" d="M1561.7 360.5h0M1559.3 363.4h0"/>
<path stroke="#26848d" stroke-width="10.5" d="M1556.9 365.7h0"/>
<path stroke="#287d8e" stroke-width="10.5" d="M1554.5 366.1h0M1552 371h0"/>
<path stroke="#238c8c" stroke-width="10.5" d="M1549.6 371.2h0"/>
<path stroke="#219a89" stroke-width="10.5" d="M1547.2 372.4h0"/>
<path stroke="#26848d" stroke-width="10.5" d="M1544.8 373.8h0"/>
<path stroke="#2b768e" stroke-width="10.5" d="M1542.4 376.7h0"/>
<path stroke="#287d8e" stroke-width="10.5" d="M1540 377.7h0"/>
<path stroke="#26848d" stroke-width="10.5" d="M1537.6 380.4h0"/>
<path stroke="#238c8c" stroke-width="10.5" d="M1535.2 383.3h0"/>
<path stroke="#26848d" stroke-width="10.5" d="M1532.7 385.5h0M1530.3 387.7h0"/>
<path stroke="#2b768e" stroke-width="10.5" d="M1527.9 388h0"/>
<path stroke="#26848d" stroke-width="10.5" d="M1525.5 391.1h0M1523.1 393.1h0"/>
<path stroke="#287d8e" stroke-width="10.5" d="M1520.7 398.3h0"/>
<path stroke="#26848d" stroke-width="10.5" d="M1518.3 398.5h0"/>
<path stroke="#238c8c" stroke-width="10.5" d="M1515.9 401.9h0"/>
<path stroke="#287d8e" stroke-width="10.5" d="M1513.5 400.7h0M1511 405.2h0M1508.6 404.6h0"/>
<path stroke="#26848d" stroke-width="10.5" d="M1506.2 407.4h0M1503.8 409.3h0M1501.4 412h0M1499 413.7h0M1496.6 417.6h0"/>
<path stroke="#238c8c" stroke-width="10.5" d="M1494.2 418.6h0"/>
<path stroke="#26848d" stroke-width="10.5" d="M1491.7 420h0M1489.3 420.7h0"/>
<path stroke="#287d8e" stroke-width="10.5" d="M1486.9 423.2h0"/>
<path stroke="#26848d" stroke-width="10.5" d="M1484.5 426.7h0"/>
<path stroke="#287d8e" stroke-width="10.5" d="M1482.1 425.4h0"/>
<path stroke="#26848d" stroke-width="10.5" d="M1479.7 428.1h0"/>
<path stroke="#287d8e" stroke-width="10.5" d="M1477.3 433h0M1474.9 433h0M1472.4 434.5h0"/>
<path stroke="#2b768e" stroke-width="10.5" d="M1470 437.5h0"/>
<path stroke="#287d8e" stroke-width="10.5" d="M1467.6 439.7h0M1465.2 440.3h0M1462.8 442.7h0"/>
<path stroke="#26848d" stroke-width="10.5" d="M1460.4 443.7h0"/>
<path stroke="#287d8e" stroke-width="10.5" d="M1458 448.2h0M1455.6 449.7h0"/>
<path stroke="#26848d" stroke-width="10.5" d="M1453.2 452.9h0M1450.7 453.6h0M1448.3 454.8h0"/>
<path stroke="#287d8e" stroke-width="10.5" d="M1445.9 456.4h0M1443.5 459.1h0"/>
<path stroke="#26848d" stroke-width="10.5" d="M1441.1 461h0"/>
<path stroke="#287d8e" stroke-width="10.5" d="M1438.7 462.6h0M1436.3 465.4h0"/>
<path stroke="#2b768e" stroke-width="10.5" d="M1433.9 467.9h0"/>
<path stroke="#26848d" stroke-width="10.5" d="M1431.4 469.8h0"/>
<path stroke="#287d8e" stroke-width="10.5" d="M1429 471.9h0M1426.6 472.9h0M1424.2 474.2h0M1421.8 477.4h0"/>
<path stroke="#21938b" stroke-width="10.5" d="M1419.4 480h0"/>
<path stroke="#26848d" stroke-width="10.5" d="M1417 482.2h0"/>
<path stroke="#2b768e" stroke-width="10.5" d="M1414.6 480.5h0M1412.1 485.4h0M1409.7 488.1h0M1407.3 490.1h0M1404.9 491.3h0"/>
<path stroke="#287d8e" stroke-width="10.5" d="M1402.5 491.8h0M1400.1 492.5h0"/>
<path stroke="#2e6e8e" stroke-width="10.5" d="M1397.7 495.7h0M1395.3 498.9h0"/>
<path stroke="#2b768e" stroke-width="10.5" d="M1392.9 498.7h0"/>
<path stroke="#2e6e8e" stroke-width="10.5" d="M1390.4 501.8h0M1388 503.8h0M1385.6 507.3h0M1383.2 508.9h0"/>
<path stroke="#21938b" stroke-width="10.5" d="M1489.6 416.7h0M1487.3 415.9h0M1485 418.1h0M1482.8 419.5h0"/>
<path stroke="#219a89" stroke-width="10.5" d="M1480.5 421h0"/>
<path stroke="#41bd72" stroke-width="10.5" d="M1478.2 423.2h0"/>
<path stroke="#36b678" stroke-width="10.5" d="M1475.9 425.4h0"/>
<path stroke="#219a89" stroke-width="10.5" d="M1473.7 426.7h0"/>
<path stroke="#21938b" stroke-width="10.5" d="M1471.4 428.7h0M1469.1 428.8h0"/>
<path stroke="#219a89" stroke-width="10.5" d="M1466.8 429.1h0M1464.5 433.1h0"/>
<path stroke="#21938b" stroke-width="10.5" d="M1462.3 433.9h0"/>
<path stroke="#219a89" stroke-width="10.5" d="M1460 434.8h0"/>
<path stroke="#21938b" stroke-width="10.5" d="M1457.7 436.3h0"/>
<path stroke="#219a89" stroke-width="10.5" d="M1455.4 437.5h0"/>
<path stroke="#41bd72" stroke-width="10.5" d="M1453.2 439.6h0"/>
<path stroke="#4fc36a" stroke-width="10.5" d="M1450.9 441.7h0"/>
<path stroke="#238c8c" stroke-width="10.5" d="M1448.6 442.3h0"/>
<path stroke="#22a884" stroke-width="10.5" d="M1446.3 442.8h0"/>
<path stroke="#2caf7e" stroke-width="10.5" d="M1444 445.3h0"/>
<path stroke="#21938b" stroke-width="10.5" d="M1441.8 447.7h0"/>
<path stroke="#219a89" stroke-width="10.5" d="M1439.5 449.1h0"/>
<path stroke="#21938b" stroke-width="10.5" d="M1437.2 449.5h0M1434.9 450.7h0"/>
<path stroke="#219a89" stroke-width="10.5" d="M1432.7 451.7h0"/>
<path stroke="#22a186" stroke-width="10.5" d="M1430.4 455h0"/>
<path stroke="#22a884" stroke-width="10.5" d="M1428.1 454.8h0"/>
<path stroke="#22a186" stroke-width="10.5" d="M1425.8 458h0"/>
<path stroke="#21938b" stroke-width="10.5" d="M1423.5 458.9h0"/>
<path stroke="#219a89" stroke-width="10.5" d="M1421.3 460.8h0"/>
<path stroke="#2caf7e" stroke-width="10.5" d="M1419 462.5h0"/>
<path stroke="#36b678" stroke-width="10.5" d="M1416.7 463h0"/>
<path stroke="#219a89" stroke-width="10.5" d="M1414.4 465.7h0"/>
<path stroke="#21938b" stroke-width="10.5" d="M1412.1 466h0M1409.9 466.8h0"/>
<path stroke="#22a186" stroke-width="10.5" d="M1407.6 468.8h0"/>
<path stroke="#21938b" stroke-width="10.5" d="M1405.3 470.7h0"/>
<path stroke="#22a186" stroke-width="10.5" d="M1403 471.4h0"/>
<path stroke="#41bd72" stroke-width="10.5" d="M1400.8 473.2h0"/>
<path stroke="#22a186" stroke-width="10.5" d="M1398.5 475.2h0"/>
<path stroke="#219a89" stroke-width="10.5" d="M1396.2 475.8h0"/>
<path stroke="#22a186" stroke-width="10.5" d="M1393.9 478.8h0"/>
<path stroke="#22a884" stroke-width="10.5" d="M1391.6 479.3h0"/>
<path stroke="#21938b" stroke-width="10.5" d="M1389.4 481.4h0"/>
<path stroke="#26848d" stroke-width="10.5" d="M1387.1 482.3h0"/>
<path stroke="#287d8e" stroke-width="10.5" d="M1384.8 482.7h0"/>
<path stroke="#26848d" stroke-width="10.5" d="M1382.5 485.1h0"/>
<path stroke="#287d8e" stroke-width="10.5" d="M1380.3 486.2h0"/>
<path stroke="#2b768e" stroke-width="10.5" d="M1378 487.1h0M1375.7 488.1h0"/>
<path stroke="#2e6e8e" stroke-width="10.5" d="M1373.4 491.5h0"/>
<path stroke="#2e6e8e" stroke-width="10.5" d="M1724.1 227.3h0"/>
<path stroke="#2b768e" stroke-width="10.5" d="M1721.4 228.1h0"/>
<path stroke="#2e6e8e" stroke-width="10.5" d="M1718.7 230.3h0M1716.1 233.3h0M1713.4 234.1h0"/>
<path stroke="#2b768e" stroke-width="10.5" d="M1710.7 235.2h0"/>
<path stroke="#2e6e8e" stroke-width="10.5" d="M1708 236.9h0"/>
<path stroke="#2b768e" stroke-width="10.5" d="M1705.3 239.3h0"/>
<path stroke="#2e6e8e" stroke-width="10.5" d="M1702.7 241.2h0M1700 242.7h0"/>
<path stroke="#287d8e" stroke-width="10.5" d="M1697.3 244.9h0"/>
<path stroke="#26848d" stroke-width="10.5" d="M1694.6 246.4h0"/>
<path stroke="#2b768e" stroke-width="10.5" d="M1691.9 248.2h0M1689.3 249.5h0M1686.6 252.3h0M1683.9 253.9h0M1681.2 255.3h0M1678.5 256.4h0M1675.9 257.8h0"/>
<path stroke="#287d8e" stroke-width="10.5" d="M1673.2 259.6h0M1670.5 263.1h0M1667.8 264h0"/>
<path stroke="#2b768e" stroke-width="10.5" d="M1665.1 264.7h0"/>
<path stroke="#287d8e" stroke-width="10.5" d="M1662.5 267h0M1659.8 268.9h0"/>
<path stroke="#2b768e" stroke-width="10.5" d="M1657.1 269.9h0M1654.4 272h0"/>
<path stroke="#287d8e" stroke-width="10.5" d="M1651.7 274.2h0"/>
<path stroke="#2b768e" stroke-width="10.5" d="M1649.1 275.8h0"/>
<path stroke="#287d8e" stroke-width="10.5" d="M1646.4 278.4h0"/>
<path stroke="#2e6e8e" stroke-width="10.5" d="M1643.7 280h0"/>
<path stroke="#2b768e" stroke-width="10.5" d="M1641 280.8h0M1638.3 283h0"/>
<path stroke="#287d8e" stroke-width="10.5" d="M1635.7 284.1h0"/>
<path stroke="#2b768e" stroke-width="10.5" d="M1633 285h0"/>
<path stroke="#287d8e" stroke-width="10.5" d="M1630.3 287.6h0"/>
<path stroke="#2b768e" stroke-width="10.5" d="M1627.6 288.4h0"/>
<path stroke="#287d8e" stroke-width="10.5" d="M1624.9 290.6h0"/>
<path stroke="#2b768e" stroke-width="10.5" d="M1622.3 291.7h0"/>
<path stroke="#287d8e" stroke-width="10.5" d="M1619.6 294.7h0"/>
<path stroke="#26848d" stroke-width="10.5" d="M1616.9 297h0M1614.2 297.5h0"/>
<path stroke="#287d8e" stroke-width="10.5" d="M1611.5 300.1h0"/>
<path stroke="#2b768e" stroke-width="10.5" d="M1608.9 300.6h0"/>
<path stroke="#287d8e" stroke-width="10.5" d="M1606.2 302.9h0"/>
<path stroke="#2b768e" stroke-width="10.5" d="M1603.5 304.9h0M1600.8 306.3h0"/>
<path stroke="#2e6e8e" stroke-width="10.5" d="M1598.1 309.1h0M1595.5 310.3h0M1592.8 311.4h0"/>
<path stroke="#287d8e" stroke-width="10.5" d="M1590.1 313.5h0"/>
<path stroke="#2b768e" stroke-width="10.5" d="M1587.4 314.5h0"/>
<path stroke="#2e6e8e" stroke-width="10.5" d="M1584.7 315.6h0M1582.1 316.5h0"/>
<path stroke="#2b768e" stroke-width="10.5" d="M1579.4 319.6h0M1576.7 321.4h0"/>
<path stroke="#2e6e8e" stroke-width="10.5" d="M1574 323.4h0"/>
<path stroke="#32668d" stroke-width="10.5" d="M1571.3 325.3h0"/>
<path stroke="#2e6e8e" stroke-width="10.5" d="M1871.5 114.6h0"/>
<path stroke="#32668d" stroke-width="10.5" d="M1869.1 119.2h0"/>
<path stroke="#2e6e8e" stroke-width="10.5" d="M1866.7 117.8h0M1864.3 122.1h0M1861.9 123.1h0M1859.4 125.9h0"/>
<path stroke="#32668d" stroke-width="10.5" d="M1857 129.2h0"/>
<path stroke="#2e6e8e" stroke-width="10.5" d="M1854.6 130.1h0"/>
<path stroke="#32668d" stroke-width="10.5" d="M1852.2 130.2h0"/>
<path stroke="#2e6e8e" stroke-width="10.5" d="M1849.8 134.6h0"/>
<path stroke="#2b768e" stroke-width="10.5" d="M1847.4 133.3h0"/>
<path stroke="#2e6e8e" stroke-width="10.5" d="M1845 137.8h0"/>
<path stroke="#2b768e" stroke-width="10.5" d="M1842.6 141.5h0"/>
<path stroke="#2e6e8e" stroke-width="10.5" d="M1840.1 142.9h0"/>
<path stroke="#2b768e" stroke-width="10.5" d="M1837.7 145.9h0M1835.3 146.5h0"/>
<path stroke="#2e6e8e" stroke-width="10.5" d="M1832.9 148.6h0"/>
<path stroke="#2b768e" stroke-width="10.5" d="M1830.5 150.9h0"/>
<path stroke="#2e6e8e" stroke-width="10.5" d="M1828.1 151.6h0M1825.7 153.4h0"/>
<path stroke="#2b768e" stroke-width="10.5" d="M1823.3 155.9h0M1820.8 159.8h0"/>
<path stroke="#2e6e8e" stroke-width="10.5" d="M1818.4 157.8h0M1816 161.5h0M1813.6 164.2h0"/>
<path stroke="#2b768e" stroke-width="10.5" d="M1811.2 164.5h0M1808.8 169.8h0"/>
<path stroke="#2e6e8e" stroke-width="10.5" d="M1806.4 169.8h0"/>
<path stroke="#2b768e" stroke-width="10.5" d="M1804 169.9h0"/>
<path stroke="#287d8e" stroke-width="10.5" d="M1801.6 175.6h0"/>
<path stroke="#2b768e" stroke-width="10.5" d="M1799.1 177.4h0M1796.7 177.1h0M1794.3 179.1h0"/>
<path stroke="#238c8c" stroke-width="10.5" d="M1791.9 182.2h0M1789.5 182.1h0"/>
<path stroke="#287d8e" stroke-width="10.5" d="M1787.1 187.2h0"/>
<path stroke="#2b768e" stroke-width="10.5" d="M1784.7 186.8h0"/>
<path stroke="#287d8e" stroke-width="10.5" d="M1782.3 192.2h0"/>
<path stroke="#2b768e" stroke-width="10.5" d="M1779.8 192.5h0"/>
<path stroke="#287d8e" stroke-width="10.5" d="M1777.4 193.9h0"/>
<path stroke="#2b768e" stroke-width="10.5" d="M1775 195h0"/>
<path stroke="#287d8e" stroke-width="10.5" d="M1772.6 199.7h0"/>
<path stroke="#2b768e" stroke-width="10.5" d="M1770.2 200.1h0M1767.8 201.9h0"/>
<path stroke="#26848d" stroke-width="10.5" d="M1765.4 204.4h0M1763 203.9h0"/>
<path stroke="#287d8e" stroke-width="10.5" d="M1760.5 207.3h0M1758.1 208.1h0"/>
<path stroke="#26848d" stroke-width="10.5" d="M1755.7 211.8h0"/>
<path stroke="#287d8e" stroke-width="10.5" d="M1753.3 213h0M1750.9 217.2h0"/>
<path stroke="#2b768e" stroke-width="10.5" d="M1748.5 218.1h0"/>
<path stroke="#26848d" stroke-width="10.5" d="M1746.1 218.7h0M1743.7 220.9h0M1741.3 222.3h0M1738.8 225.2h0"/>
<path stroke="#21938b" stroke-width="10.5" d="M1736.4 227.3h0M1734 232.6h0"/>
<path stroke="#238c8c" stroke-width="10.5" d="M1731.6 233.2h0"/>
<path stroke="#26848d" stroke-width="10.5" d="M1729.2 234.3h0"/>
<path stroke="#287d8e" stroke-width="10.5" d="M1726.8 235.7h0"/>
<path stroke="#2b768e" stroke-width="10.5" d="M1724.4 237.8h0"/>
<path stroke="#287d8e" stroke-width="10.5" d="M1722 238.6h0M1719.5 243h0"/>
<path stroke="#238c8c" stroke-width="10.5" d="M1717.1 244.1h0"/>
<path stroke="#26848d" stroke-width="10.5" d="M1714.7 245.9h0M1712.3 247.5h0"/>
<path stroke="#287d8e" stroke-width="10.5" d="M1709.9 248.6h0M1707.5 249.9h0M1705.1 254.7h0"/>
<path stroke="#26848d" stroke-width="10.5" d="M1702.7 255.8h0"/>
<path stroke="#287d8e" stroke-width="10.5" d="M1700.2 260.1h0"/>
<path stroke="#2b768e" stroke-width="10.5" d="M1697.8 257.7h0"/>
<path stroke="#26848d" stroke-width="10.5" d="M1695.4 263.1h0"/>
<path stroke="#287d8e" stroke-width="10.5" d="M1693 262.6h0"/>
<path stroke="#26848d" stroke-width="10.5" d="M1690.6 266.2h0"/>
<path stroke="#2b768e" stroke-width="10.5" d="M1688.2 266.7h0"/>
<path stroke="#287d8e" stroke-width="10.5" d="M1685.8 269.8h0M1683.4 269.8h0M1681 272.1h0M1678.5 275.9h0M1676.1 275.9h0M1673.7 279.4h0M1671.3 282h0M1668.9 281.4h0"/>
<path stroke="#2b768e" stroke-width="10.5" d="M1666.5 287h0"/>
<path stroke="#287d8e" stroke-width="10.5" d="M1664.1 287.9h0M1661.7 288.7h0M1659.2 290.6h0M1656.8 293.3h0"/>
<path stroke="#26848d" stroke-width="10.5" d="M1654.4 294h0"/>
<path stroke="#21938b" stroke-width="10.5" d="M1652 296.1h0"/>
<path stroke="#238c8c" stroke-width="10.5" d="M1649.6 297.8h0"/>
<path stroke="#26848d" stroke-width="10.5" d="M1647.2 298.9h0M1644.8 301h0M1642.4 303.2h0"/>
<path stroke="#287d8e" stroke-width="10.5" d="M1639.9 305.2h0M1637.5 309.5h0M1635.1 311.7h0M1632.7 310.8h0M1630.3 315.5h0M1627.9 316.6h0M1625.5 317.6h0M1623.1 319.3h0M1620.7 321.4h0"/>
<path stroke="#2b768e" stroke-width="10.5" d="M1618.2 325.2h0"/>
<path stroke="#287d8e" stroke-width="10.5" d="M1615.8 325.8h0"/>
<path stroke="#26848d" stroke-width="10.5" d="M1613.4 329.7h0M1611 330.8h0M1608.6 333.1h0"/>
<path stroke="#287d8e" stroke-width="10.5" d="M1606.2 336h0M1603.8 335.3h0M1601.4 339.2h0"/>
<path stroke="#26848d" stroke-width="10.5" d="M1598.9 338.9h0"/>
<path stroke="#287d8e" stroke-width="10.5" d="M1596.5 342.7h0"/>
<path stroke="#2b768e" stroke-width="10.5" d="M1594.1 343.4h0"/>
<path stroke="#287d8e" stroke-width="10.5" d="M1591.7 346h0"/>
<path stroke="#26848d" stroke-width="10.5" d="M1589.3 348.3h0"/>
<path stroke="#287d8e" stroke-width="10.5" d="M1586.9 350h0M1584.5 351.1h0M1582.1 354.3h0"/>
<path stroke="#26848d" stroke-width="10.5" d="M1579.6 357.2h0"/>
<path stroke="#2b768e" stroke-width="10.5" d="M1577.2 358.4h0"/>
<path stroke="#287d8e" stroke-width="10.5" d="M1574.8 361.2h0M1572.4 361.5h0"/>
<path stroke="#2b768e" stroke-width="10.5" d="M1570 364.6h0M1567.6 365.3h0M1565.2 367.5h0"/>
<path stroke="#26848d" stroke-width="10.5" d="M1562.8 368.7h0M1560.4 374.2h0"/>
<path stroke="#21938b" stroke-width="10.5" d="M1557.9 374.3h0"/>
<path stroke="#238c8c" stroke-width="10.5" d="M1555.5 376.3h0"/>
<path stroke="#287d8e" stroke-width="10.5" d="M1553.1 375.8h0"/>
<path stroke="#2b768e" stroke-width="10.5" d="M1550.7 380.8h0"/>
<path stroke="#287d8e" stroke-width="10.5" d="M1548.3 380.1h0"/>
<path stroke="#2b768e" stroke-width="10.5" d="M1545.9 381.7h0"/>
<path stroke="#287d8e" stroke-width="10.5" d="M1543.5 384.4h0"/>
<path stroke="#26848d" stroke-width="10.5" d="M1541.1 386.6h0M1538.6 387.7h0"/>
<path stroke="#287d8e" stroke-width="10.5" d="M1536.2 391.1h0M1533.8 393.1h0M1531.4 395.9h0M1529 396.6h0"/>
<path stroke="#2b768e" stroke-width="10.5" d="M1526.6 399.4h0"/>
<path stroke="#26848d" stroke-width="10.5" d="M1524.2 403.2h0"/>
<path stroke="#2b768e" stroke-width="10.5" d="M1521.8 403.1h0"/>
<path stroke="#287d8e" stroke-width="10.5" d="M1519.3 406.7h0M1516.9 407.7h0M1514.5 410.5h0"/>
<path stroke="#2b768e" stroke-width="10.5" d="M1512.1 412.9h0"/>
<path stroke="#287d8e" stroke-width="10.5" d="M1509.7 413.6h0M1507.3 414.3h0M1504.9 417.1h0M1502.5 421.3h0M1500.1 421.8h0M1497.6 423.6h0M1495.2 427h0M1492.8 427.5h0M1490.4 428.8h0M1488 430.8h0"/>
<path stroke="#26848d" stroke-width="10.5" d="M1485.6 433.1h0"/>
<path stroke="#287d8e" stroke-width="10.5" d="M1483.2 436.7h0M1480.8 436.3h0M1478.3 437.3h0M1475.9 441.3h0M1473.5 444.2h0"/>
<path stroke="#26848d" stroke-width="10.5" d="M1471.1 445.7h0"/>
<path stroke="#287d8e" stroke-width="10.5" d="M1468.7 448.8h0"/>
<path stroke="#21938b" stroke-width="10.5" d="M1466.3 447.4h0M1463.9 452.3h0"/>
<path stroke="#238c8c" stroke-width="10.5" d="M1461.5 452.9h0"/>
<path stroke="#287d8e" stroke-width="10.5" d="M1459 454.4h0"/>
<path stroke="#2b768e" stroke-width="10.5" d="M1456.6 454.7h0"/>
<path stroke="#287d8e" stroke-width="10.5" d="M1454.2 457.9h0M1451.8 460.1h0"/>
<path stroke="#26848d" stroke-width="10.5" d="M1449.4 464h0"/>
<path stroke="#287d8e" stroke-width="10.5" d="M1447 464.1h0"/>
<path stroke="#26848d" stroke-width="10.5" d="M1444.6 468.1h0"/>
<path stroke="#238c8c" stroke-width="10.5" d="M1442.2 468.6h0"/>
<path stroke="#219a89" stroke-width="10.5" d="M1439.8 472h0"/>
<path stroke="#21938b" stroke-width="10.5" d="M1437.3 475.7h0"/>
<path stroke="#26848d" stroke-width="10.5" d="M1434.9 474.2h0M1432.5 477.7h0"/>
<path stroke="#287d8e" stroke-width="10.5" d="M1430.1 479h0M1427.7 482.1h0"/>
<path stroke="#2b768e" stroke-width="10.5" d="M1425.3 483.9h0M1422.9 487.6h0"/>
<path stroke="#238c8c" stroke-width="10.5" d="M1420.5 488.9h0"/>
<path stroke="#26848d" stroke-width="10.5" d="M1418 490.1h0"/>
<path stroke="#2b768e" stroke-width="10.5" d="M1415.6 491.1h0M1413.2 491.4h0M1410.8 496.1h0"/>
<path stroke="#287d8e" stroke-width="10.5" d="M1408.4 497.2h0M1406 497.7h0"/>
<path stroke="#26848d" stroke-width="10.5" d="M1403.6 498.1h0"/>
<path stroke="#2b768e" stroke-width="10.5" d="M1401.2 501.2h0"/>
<path stroke="#287d8e" stroke-width="10.5" d="M1398.7 504.5h0"/>
<path stroke="#2b768e" stroke-width="10.5" d="M1396.3 503.5h0"/>
<path stroke="#26848d" stroke-width="10.5" d="M1393.9 510.1h0M1391.5 509.5h0"/>
<path stroke="#287d8e" stroke-width="10.5" d="M1389.1 511.2h0M1386.7 514.2h0"/>
<path stroke="#219a89" stroke-width="10.5" d="M1384.3 517.3h0M1381.9 519.9h0"/>
<path stroke="#238c8c" stroke-width="10.5" d="M1379.5 521.3h0"/>
<path stroke="#287d8e" stroke-width="10.5" d="M1377 522.7h0M1374.6 523.8h0"/>
<path stroke="#2b768e" stroke-width="10.5" d="M1372.2 524.7h0"/>
<path stroke="#287d8e" stroke-width="10.5" d="M1369.8 527.9h0"/>
<path stroke="#2b768e" stroke-width="10.5" d="M1367.4 530.7h0M1365 532.3h0"/>
<path stroke="#287d8e" stroke-width="10.5" d="M1362.6 533.8h0"/>
<path stroke="#2b768e" stroke-width="10.5" d="M1360.2 536.4h0"/>
<path stroke="#287d8e" stroke-width="10.5" d="M1357.7 536.9h0M1355.3 540.2h0"/>
<path stroke="#2e6e8e" stroke-width="10.5" d="M1352.9 541.9h0"/>
<path stroke="#2b768e" stroke-width="10.5" d="M1350.5 544h0M1348.1 546.6h0M1345.7 550.5h0M1343.3 549.9h0"/>
<path stroke="#2e6e8e" stroke-width="10.5" d="M1340.9 551.3h0M1338.4 554.6h0"/>
<path stroke="#2b768e" stroke-width="10.5" d="M1336 555.7h0"/>
<path stroke="#2e6e8e" stroke-width="10.5" d="M1333.6 557h0M1331.2 559.5h0M1328.8 560.9h0"/>
<path stroke="#32668d" stroke-width="10.5" d="M1326.4 563.4h0"/>
<path stroke="#2b768e" stroke-width="10.5" d="M1324 567.5h0"/>
<path stroke="#2e6e8e" stroke-width="10.5" d="M1927.8 69.2h0"/>
<path stroke="#32668d" stroke-width="10.5" d="M1926.3 69.8h0M1924.8 70.1h0"/>
<path stroke="#2e6e8e" stroke-width="10.5" d="M1923.4 71.1h0M1921.9 72.8h0"/>
<path stroke="#32668d" stroke-width="10.5" d="M1920.4 73.4h0"/>
<path stroke="#2e6e8e" stroke-width="10.5" d="M1918.9 75.7h0"/>
<path stroke="#32668d" stroke-width="10.5" d="M1917.5 75.8h0M1916 78h0"/>
<path stroke="#2e6e8e" stroke-width="10.5" d="M1914.5 76.7h0M1913 78.9h0"/>
<path stroke="#2b768e" stroke-width="10.5" d="M1911.6 81.8h0"/>
<path stroke="#2e6e8e" stroke-width="10.5" d="M1910.1 81.3h0"/>
<path stroke="#2b768e" stroke-width="10.5" d="M1908.6 84.2h0"/>
<path stroke="#2e6e8e" stroke-width="10.5" d="M1907.1 82.8h0"/>
<path stroke="#2b768e" stroke-width="10.5" d="M1905.7 85.8h0"/>
<path stroke="#2e6e8e" stroke-width="10.5" d="M1904.2 85.1h0M1902.7 90h0"/>
<path stroke="#2b768e" stroke-width="10.5" d="M1901.2 87.8h0"/>
<path stroke="#2e6e8e" stroke-width="10.5" d="M1899.8 88.7h0M1898.3 93.8h0"/>
<path stroke="#2b768e" stroke-width="10.5" d="M1896.8 94.8h0M1895.4 93.7h0"/>
<path stroke="#287d8e" stroke-width="10.5" d="M1893.9 97.7h0"/>
<path stroke="#2b768e" stroke-width="10.5" d="M1892.4 95.2h0M1890.9 97.5h0M1889.5 98.8h0M1888 98.6h0"/>
<path stroke="#2e6e8e" stroke-width="10.5" d="M1886.5 103.1h0"/>
<path stroke="#2b768e" stroke-width="10.5" d="M1885 102.7h0M1883.6 104.5h0M1882.1 104.2h0"/>
<path stroke="#287d8e" stroke-width="10.5" d="M1880.6 107.2h0"/>
<path stroke="#2b768e" stroke-width="10.5" d="M1879.1 107.3h0"/>
<path stroke="#287d8e" stroke-width="10.5" d="M1877.7 109.2h0"/>
<path stroke="#2b768e" stroke-width="10.5" d="M1876.2 109.4h0M1874.7 109.4h0M1873.2 112.3h0M1871.8 112.5h0M1870.3 115h0"/>
<path stroke="#287d8e" stroke-width="10.5" d="M1868.8 116.1h0M1867.3 116.8h0"/>
<path stroke="#2b768e" stroke-width="10.5" d="M1865.9 119.3h0"/>
<path stroke="#2e6e8e" stroke-width="10.5" d="M1864.4 118.3h0"/>
<path stroke="#287d8e" stroke-width="10.5" d="M1862.9 120.9h0"/>
<path stroke="#2b768e" stroke-width="10.5" d="M1861.4 122.3h0M1860 121.4h0M1858.5 126.3h0"/>
<path stroke="#287d8e" stroke-width="10.5" d="M1857 125.9h0"/>
<path stroke="#2b768e" stroke-width="10.5" d="M1855.6 129h0"/>
<path stroke="#287d8e" stroke-width="10.5" d="M1854.1 126.2h0"/>
<path stroke="#2b768e" stroke-width="10.5" d="M1852.6 131h0M1851.1 130.8h0"/>
<path stroke="#287d8e" stroke-width="10.5" d="M1849.7 131.5h0"/>
<path stroke="#2b768e" stroke-width="10.5" d="M1848.2 132.5h0"/>
<path stroke="#287d8e" stroke-width="10.5" d="M1846.7 134.7h0M1845.2 137h0M1843.8 138.2h0M1842.3 136.8h0"/>
<path stroke="#2b768e" stroke-width="10.5" d="M1840.8 138.9h0"/>
<path stroke="#287d8e" stroke-width="10.5" d="M1839.3 139.9h0"/>
<path stroke="#26848d" stroke-width="10.5" d="M1837.9 141.4h0M1836.4 142.4h0"/>
<path stroke="#2b768e" stroke-width="10.5" d="M1834.9 143.9h0"/>
<path stroke="#287d8e" stroke-width="10.5" d="M1833.4 143.5h0"/>
<path stroke="#26848d" stroke-width="10.5" d="M1832 144.1h0"/>
<path stroke="#287d8e" stroke-width="10.5" d="M1830.5 147.5h0M1829 149.9h0M1827.5 151.3h0M1826.1 150.7h0M1824.6 153.8h0M1823.1 154.8h0"/>
<path stroke="#26848d" stroke-width="10.5" d="M1821.7 156h0"/>
<path stroke="#287d8e" stroke-width="10.5" d="M1820.2 155.1h0"/>
<path stroke="#26848d" stroke-width="10.5" d="M1818.7 154.7h0"/>
<path stroke="#287d8e" stroke-width="10.5" d="M1817.2 157.1h0M1815.8 158.7h0"/>
<path stroke="#26848d" stroke-width="10.5" d="M1814.3 159.5h0"/>
<path stroke="#287d8e" stroke-width="10.5" d="M1812.8 160.1h0"/>
<path stroke="#26848d" stroke-width="10.5" d="M1811.3 163.1h0M1809.9 164.7h0"/>
<path stroke="#287d8e" stroke-width="10.5" d="M1808.4 165.5h0M1806.9 168.4h0"/>
<path stroke="#26848d" stroke-width="10.5" d="M1805.4 168.6h0M1804 169.4h0"/>
<path stroke="#287d8e" stroke-width="10.5" d="M1802.5 172.5h0"/>
<path stroke="#26848d" stroke-width="10.5" d="M1801 172.9h0"/>
<path stroke="#287d8e" stroke-width="10.5" d="M1799.5 170.4h0M1798.1 171.9h0"/>
<path stroke="#238c8c" stroke-width="10.5" d="M1796.6 175h0"/>
<path stroke="#26848d" stroke-width="10.5" d="M1795.1 175.5h0M1793.6 177.3h0M1792.2 180.2h0"/>
<path stroke="#21938b" stroke-width="10.5" d="M1790.7 179.8h0"/>
<path stroke="#22a884" stroke-width="10.5" d="M1789.2 179.5h0"/>
<path stroke="#5fc860" stroke-width="10.5" d="M1787.7 183.9h0"/>
<path stroke="#95d740" stroke-width="10.5" d="M1786.3 183.1h0"/>
<path stroke="#4fc36a" stroke-width="10.5" d="M1784.8 184.9h0"/>
<path stroke="#36b678" stroke-width="10.5" d="M1783.3 187.2h0M1781.9 188.1h0"/>
<path stroke="#2caf7e" stroke-width="10.5" d="M1780.4 187.9h0"/>
<path stroke="#219a89" stroke-width="10.5" d="M1778.9 187.5h0"/>
<path stroke="#21938b" stroke-width="10.5" d="M1777.4 190.6h0"/>
<path stroke="#238c8c" stroke-width="10.5" d="M1776 192.3h0"/>
<path stroke="#2caf7e" stroke-width="10.5" d="M1774.5 193.4h0"/>
<path stroke="#36b678" stroke-width="10.5" d="M1773 194.9h0"/>
<path stroke="#219a89" stroke-width="10.5" d="M1771.5 195.1h0"/>
<path stroke="#21938b" stroke-width="10.5" d="M1770.1 196.4h0"/>
<path stroke="#238c8c" stroke-width="10.5" d="M1768.6 199.1h0"/>
<path stroke="#26848d" stroke-width="10.5" d="M1767.1 200.9h0"/>
<path stroke="#21938b" stroke-width="10.5" d="M1765.6 200.4h0"/>
<path stroke="#238c8c" stroke-width="10.5" d="M1764.2 201.6h0M1762.7 202.2h0"/>
<path stroke="#26848d" stroke-width="10.5" d="M1761.2 202.5h0"/>
<path stroke="#238c8c" stroke-width="10.5" d="M1759.7 205.3h0"/>
<path stroke="#22a186" stroke-width="10.5" d="M1758.3 206.1h0"/>
<path stroke="#22a884" stroke-width="10.5" d="M1756.8 208.7h0M1755.3 208.8h0"/>
<path stroke="#21938b" stroke-width="10.5" d="M1753.8 211.7h0"/>
<path stroke="#22a186" stroke-width="10.5" d="M1752.4 212.1h0"/>
<path stroke="#22a884" stroke-width="10.5" d="M1750.9 211h0"/>
<path stroke="#2caf7e" stroke-width="10.5" d="M1749.4 214.1h0"/>
<path stroke="#a9db33" stroke-width="10.5" d="M1748 212.7h0"/>
<path stroke="#219a89" stroke-width="10.5" d="M1746.5 215.1h0"/>
<path stroke="#41bd72" stroke-width="10.5" d="M1745 217.5h0"/>
<path stroke="#219a89" stroke-width="10.5" d="M1743.5 217.6h0"/>
<path stroke="#26848d" stroke-width="10.5" d="M1742.1 218.3h0"/>
<path stroke="#238c8c" stroke-width="10.5" d="M1740.6 221.1h0"/>
<path stroke="#26848d" stroke-width="10.5" d="M1739.1 222.2h0"/>
<path stroke="#238c8c" stroke-width="10.5" d="M1737.6 223.9h0M1736.2 223.1h0M1734.7 226.6h0"/>
<path stroke="#21938b" stroke-width="10.5" d="M1733.2 227.9h0"/>
<path stroke="#287d8e" stroke-width="10.5" d="M1731.7 229.8h0"/>
<path stroke="#238c8c" stroke-width="10.5" d="M1730.3 230.9h0"/>
<path stroke="#26848d" stroke-width="10.5" d="M1728.8 231.2h0"/>
<path stroke="#238c8c" stroke-width="10.5" d="M1727.3 232.1h0M1725.8 231.7h0"/>
<path stroke="#21938b" stroke-width="10.5" d="M1724.4 232.7h0"/>
<path stroke="#238c8c" stroke-width="10.5" d="M1722.9 236.3h0M1721.4 237.9h0"/>
<path stroke="#21938b" stroke-width="10.5" d="M1719.9 239.2h0"/>
<path stroke="#22a186" stroke-width="10.5" d="M1718.5 236.5h0"/>
<path stroke="#21938b" stroke-width="10.5" d="M1717 237.1h0"/>
<path stroke="#26848d" stroke-width="10.5" d="M1715.5 240.5h0"/>
<path stroke="#41bd72" stroke-width="10.5" d="M1714 242.6h0"/>
<path stroke="#2caf7e" stroke-width="10.5" d="M1712.6 244.1h0"/>
<path stroke="#238c8c" stroke-width="10.5" d="M1711.1 246.1h0M1709.6 245.5h0M1708.2 248.3h0"/>
<path stroke="#26848d" stroke-width="10.5" d="M1706.7 250.2h0"/>
<path stroke="#238c8c" stroke-width="10.5" d="M1705.2 248.7h0M1703.7 252h0M1702.3 251.6h0M1700.8 253.7h0M1699.3 252.9h0M1697.8 255.3h0"/>
<path stroke="#2caf7e" stroke-width="10.5" d="M1696.4 258.4h0"/>
<path stroke="#219a89" stroke-width="10.5" d="M1694.9 257.7h0"/>
<path stroke="#238c8c" stroke-width="10.5" d="M1693.4 260h0"/>
<path stroke="#26848d" stroke-width="10.5" d="M1691.9 260.6h0M1690.5 263.3h0"/>
<path stroke="#238c8c" stroke-width="10.5" d="M1689 263.1h0M1687.5 263.2h0"/>
<path stroke="#26848d" stroke-width="10.5" d="M1686 266.4h0M1684.6 267.1h0M1683.1 268.1h0M1681.6 269.5h0M1680.1 269.9h0"/>
<path stroke="#238c8c" stroke-width="10.5" d="M1678.7 269.2h0M1677.2 271.8h0M1675.7 273.8h0"/>
<path stroke="#22a884" stroke-width="10.5" d="M1674.3 275.3h0"/>
<path stroke="#219a89" stroke-width="10.5" d="M1672.8 277.2h0"/>
<path stroke="#238c8c" stroke-width="10.5" d="M1671.3 278.5h0M1669.8 279.2h0"/>
<path stroke="#95d740" stroke-width="10.5" d="M1668.4 279.6h0"/>
<path stroke="#4fc36a" stroke-width="10.5" d="M1666.9 282.4h0"/>
<path stroke="#22a884" stroke-width="10.5" d="M1665.4 282.5h0M1663.9 283.8h0"/>
<path stroke="#21938b" stroke-width="10.5" d="M1662.5 283.5h0M1661 287.2h0"/>
<path stroke="#219a89" stroke-width="10.5" d="M1659.5 288h0"/>
<path stroke="#2caf7e" stroke-width="10.5" d="M1658 287.9h0"/>
<path stroke="#36b678" stroke-width="10.5" d="M1656.6 290.3h0"/>
<path stroke="#4fc36a" stroke-width="10.5" d="M1655.1 291h0"/>
<path stroke="#21938b" stroke-width="10.5" d="M1653.6 291.8h0"/>
<path stroke="#238c8c" stroke-width="10.5" d="M1652.1 294.1h0M1650.7 293.3h0"/>
<path stroke="#26848d" stroke-width="10.5" d="M1649.2 293.7h0M1647.7 296.8h0M1646.2 295.9h0M1644.8 299h0"/>
<path stroke="#238c8c" stroke-width="10.5" d="M1643.3 299.5h0M1641.8 301.5h0"/>
<path stroke="#26848d" stroke-width="10.5" d="M1640.3 303.1h0M1638.9 302.6h0"/>
<path stroke="#238c8c" stroke-width="10.5" d="M1637.4 305.1h0M1635.9 308.6h0"/>
<path stroke="#219a89" stroke-width="10.5" d="M1634.5 306.6h0"/>
<path stroke="#2caf7e" stroke-width="10.5" d="M1633 309.1h0"/>
<path stroke="#219a89" stroke-width="10.5" d="M1631.5 307.9h0"/>
<path stroke="#238c8c" stroke-width="10.5" d="M1630 309.4h0"/>
<path stroke="#5fc860" stroke-width="10.5" d="M1628.6 311.2h0"/>
<path stroke="#81d24d" stroke-width="10.5" d="M1627.1 315h0"/>
<path stroke="#238c8c" stroke-width="10.5" d="M1625.6 313.7h0M1624.1 317.4h0M1622.7 318.2h0M1621.2 317.1h0"/>
<path stroke="#21938b" stroke-width="10.5" d="M1619.7 320.2h0"/>
<path stroke="#2caf7e" stroke-width="10.5" d="M1618.2 320.8h0"/>
<path stroke="#22a884" stroke-width="10.5" d="M1616.8 322.3h0"/>
<path stroke="#238c8c" stroke-width="10.5" d="M1615.3 322.8h0M1613.8 326h0M1612.3 326.6h0M1610.9 325.9h0"/>
<path stroke="#26848d" stroke-width="10.5" d="M1609.4 328.4h0"/>
<path stroke="#21938b" stroke-width="10.5" d="M1607.9 327.6h0"/>
<path stroke="#219a89" stroke-width="10.5" d="M1606.4 331.8h0"/>
<path stroke="#5fc860" stroke-width="10.5" d="M1605 331.4h0"/>
<path stroke="#f7e625" stroke-width="10.5" d="M1603.5 334.7h0"/>
<path stroke="#a9db33" stroke-width="10.5" d="M1602 335.8h0"/>
<path stroke="#36b678" stroke-width="10.5" d="M1600.6 332.9h0"/>
<path stroke="#2caf7e" stroke-width="10.5" d="M1599.1 334.3h0"/>
<path stroke="#219a89" stroke-width="10.5" d="M1597.6 336.9h0"/>
<path stroke="#238c8c" stroke-width="10.5" d="M1596.1 336.1h0"/>
<path stroke="#26848d" stroke-width="10.5" d="M1594.7 341.4h0M1593.2 339.7h0M1591.7 342h0M1590.2 344.4h0M1588.8 346.2h0"/>
<path stroke="#238c8c" stroke-width="10.5" d="M1587.3 345.5h0"/>
<path stroke="#21938b" stroke-width="10.5" d="M1585.8 346.8h0"/>
<path stroke="#26848d" stroke-width="10.5" d="M1584.3 350.1h0M1582.9 350.2h0"/>
<path stroke="#21938b" stroke-width="10.5" d="M1581.4 351.6h0"/>
<path stroke="#22a186" stroke-width="10.5" d="M1579.9 350.7h0M1578.4 353h0"/>
<path stroke="#238c8c" stroke-width="10.5" d="M1577 352.3h0"/>
<path stroke="#26848d" stroke-width="10.5" d="M1575.5 355.5h0"/>
<path stroke="#238c8c" stroke-width="10.5" d="M1574 357.4h0M1572.5 358.5h0M1571.1 359.7h0"/>
<path stroke="#21938b" stroke-width="10.5" d="M1569.6 362.7h0"/>
<path stroke="#238c8c" stroke-width="10.5" d="M1568.1 362.6h0M1566.6 362.4h0"/>
<path stroke="#26848d" stroke-width="10.5" d="M1565.2 365.1h0"/>
<path stroke="#21938b" stroke-width="10.5" d="M1563.7 366.9h0"/>
<path stroke="#a9db33" stroke-width="10.5" d="M1562.2 365.4h0"/>
<path stroke="#41bd72" stroke-width="10.5" d="M1560.8 366.4h0"/>
<path stroke="#22a186" stroke-width="10.5" d="M1559.3 368.7h0"/>
<path stroke="#219a89" stroke-width="10.5" d="M1557.8 371.9h0"/>
<path stroke="#41bd72" stroke-width="10.5" d="M1556.3 373h0"/>
<path stroke="#5fc860" stroke-width="10.5" d="M1554.9 370.6h0"/>
<path stroke="#2caf7e" stroke-width="10.5" d="M1553.4 373.5h0"/>
<path stroke="#219a89" stroke-width="10.5" d="M1551.9 376.5h0"/>
<path stroke="#238c8c" stroke-width="10.5" d="M1550.4 376h0M1549 375.5h0"/>
<path stroke="#26848d" stroke-width="10.5" d="M1547.5 378.8h0"/>
<path stroke="#238c8c" stroke-width="10.5" d="M1546 378.4h0"/>
<path stroke="#21938b" stroke-width="10.5" d="M1544.5 380.3h0"/>
<path stroke="#2caf7e" stroke-width="10.5" d="M1543.1 382h0"/>
<path stroke="#22a884" stroke-width="10.5" d="M1541.6 385.2h0"/>
<path stroke="#21938b" stroke-width="10.5" d="M1540.1 385.1h0"/>
<path stroke="#26848d" stroke-width="10.5" d="M1538.6 384.9h0"/>
<path stroke="#21938b" stroke-width="10.5" d="M1537.2 385.5h0"/>
<path stroke="#238c8c" stroke-width="10.5" d="M1535.7 388h0"/>
<path stroke="#21938b" stroke-width="10.5" d="M1534.2 387.1h0"/>
<path stroke="#238c8c" stroke-width="10.5" d="M1532.7 390.8h0M1531.3 391h0M1529.8 393.5h0"/>
<path stroke="#26848d" stroke-width="10.5" d="M1528.3 396h0"/>
<path stroke="#238c8c" stroke-width="10.5" d="M1526.9 395.1h0"/>
<path stroke="#219a89" stroke-width="10.5" d="M1525.4 397.8h0"/>
<path stroke="#41bd72" stroke-width="10.5" d="M1523.9 399.1h0"/>
<path stroke="#36b678" stroke-width="10.5" d="M1522.4 400.7h0"/>
<path stroke="#2caf7e" stroke-width="10.5" d="M1521 400.3h0"/>
<path stroke="#e3e425" stroke-width="10.5" d="M1519.5 401.7h0"/>
<path stroke="#6fcd57" stroke-width="10.5" d="M1518 401.5h0"/>
<path stroke="#21938b" stroke-width="10.5" d="M1516.5 405.6h0"/>
<path stroke="#238c8c" stroke-width="10.5" d="M1515.1 404.6h0"/>
<path stroke="#21938b" stroke-width="10.5" d="M1513.6 405.9h0"/>
<path stroke="#219a89" stroke-width="10.5" d="M1512.1 409.3h0"/>
<path stroke="#238c8c" stroke-width="10.5" d="M1510.6 409.9h0M1509.2 412.8h0M1507.7 413.7h0M1506.2 413.7h0M1504.7 413.8h0"/>
<path stroke="#21938b" stroke-width="10.5" d="M1503.3 415h0M1501.8 418.6h0"/>
<path stroke="#238c8c" stroke-width="10.5" d="M1500.3 419.6h0M1498.8 419.9h0"/>
<path stroke="#26848d" stroke-width="10.5" d="M1497.4 418.9h0"/>
<path stroke="#238c8c" stroke-width="10.5" d="M1495.9 422h0M1494.4 423.4h0M1492.9 424.7h0M1491.5 425.8h0M1490 427.3h0M1488.5 426.5h0"/>
<path stroke="#21938b" stroke-width="10.5" d="M1487.1 428.8h0"/>
<path stroke="#219a89" stroke-width="10.5" d="M1485.6 430.3h0"/>
<path stroke="#238c8c" stroke-width="10.5" d="M1484.1 430h0M1482.6 433.8h0"/>
<path stroke="#26848d" stroke-width="10.5" d="M1481.2 436.2h0"/>
<path stroke="#238c8c" stroke-width="10.5" d="M1479.7 433.5h0"/>
<path stroke="#26848d" stroke-width="10.5" d="M1478.2 436.9h0"/>
<path stroke="#238c8c" stroke-width="10.5" d="M1476.7 437.3h0"/>
<path stroke="#21938b" stroke-width="10.5" d="M1475.3 436.1h0"/>
<path stroke="#26848d" stroke-width="10.5" d="M1473.8 438.3h0"/>
<path stroke="#238c8c" stroke-width="10.5" d="M1472.3 439.4h0"/>
<path stroke="#219a89" stroke-width="10.5" d="M1470.8 443.3h0"/>
<path stroke="#a9db33" stroke-width="10.5" d="M1469.4 443.4h0"/>
<path stroke="#219a89" stroke-width="10.5" d="M1467.9 443.2h0"/>
<path stroke="#238c8c" stroke-width="10.5" d="M1466.4 446.4h0M1464.9 446.6h0"/>
<path stroke="#26848d" stroke-width="10.5" d="M1463.5 448.1h0M1462 448.7h0"/>
<path stroke="#238c8c" stroke-width="10.5" d="M1460.5 450h0"/>
<path stroke="#36b678" stroke-width="10.5" d="M1459 451.7h0"/>
<path stroke="#219a89" stroke-width="10.5" d="M1457.6 451.7h0"/>
<path stroke="#21938b" stroke-width="10.5" d="M1456.1 454.5h0"/>
<path stroke="#219a89" stroke-width="10.5" d="M1454.6 458.3h0M1453.2 455.9h0"/>
<path stroke="#238c8c" stroke-width="10.5" d="M1451.7 459.7h0M1450.2 457.8h0M1448.7 461.7h0M1447.3 459.3h0M1445.8 460.8h0M1444.3 462.9h0M1442.8 465.1h0"/>
<path stroke="#26848d" stroke-width="10.5" d="M1441.4 466.2h0"/>
<path stroke="#238c8c" stroke-width="10.5" d="M1439.9 467.3h0"/>
<path stroke="#26848d" stroke-width="10.5" d="M1438.4 467.9h0M1436.9 469.2h0"/>
<path stroke="#238c8c" stroke-width="10.5" d="M1435.5 469.2h0"/>
<path stroke="#219a89" stroke-width="10.5" d="M1434 471h0"/>
<path stroke="#36b678" stroke-width="10.5" d="M1432.5 473.7h0"/>
<path stroke="#41bd72" stroke-width="10.5" d="M1431 476.4h0"/>
<path stroke="#219a89" stroke-width="10.5" d="M1429.6 476.6h0"/>
<path stroke="#21938b" stroke-width="10.5" d="M1428.1 477.1h0"/>
<path stroke="#5fc860" stroke-width="10.5" d="M1426.6 477h0"/>
<path stroke="#21938b" stroke-width="10.5" d="M1425.1 480.3h0"/>
<path stroke="#238c8c" stroke-width="10.5" d="M1423.7 481.1h0"/>
<path stroke="#21938b" stroke-width="10.5" d="M1422.2 483.6h0"/>
<path stroke="#22a186" stroke-width="10.5" d="M1420.7 482.9h0"/>
<path stroke="#41bd72" stroke-width="10.5" d="M1419.2 483.7h0"/>
<path stroke="#22a884" stroke-width="10.5" d="M1417.8 483.3h0"/>
<path stroke="#238c8c" stroke-width="10.5" d="M1416.3 486h0"/>
<path stroke="#21938b" stroke-width="10.5" d="M1414.8 488.2h0M1413.4 489.5h0M1411.9 492.6h0"/>
<path stroke="#22a884" stroke-width="10.5" d="M1410.4 490.4h0"/>
<path stroke="#36b678" stroke-width="10.5" d="M1408.9 492.3h0"/>
<path stroke="#2caf7e" stroke-width="10.5" d="M1407.5 493.9h0"/>
<path stroke="#21938b" stroke-width="10.5" d="M1406 494.5h0"/>
<path stroke="#22a884" stroke-width="10.5" d="M1404.5 492.6h0"/>
<path stroke="#21938b" stroke-width="10.5" d="M1403 496.9h0"/>
<path stroke="#26848d" stroke-width="10.5" d="M1401.6 500.4h0M1400.1 497.6h0"/>
<path stroke="#238c8c" stroke-width="10.5" d="M1398.6 500.5h0"/>
<path stroke="#26848d" stroke-width="10.5" d="M1397.1 501.5h0"/>
<path stroke="#238c8c" stroke-width="10.5" d="M1395.7 502.3h0M1394.2 504h0M1392.7 504.6h0M1391.2 507h0"/>
<path stroke="#26848d" stroke-width="10.5" d="M1389.8 507.7h0"/>
<path stroke="#238c8c" stroke-width="10.5" d="M1388.3 509.2h0"/>
<path stroke="#26848d" stroke-width="10.5" d="M1386.8 511.7h0"/>
<path stroke="#238c8c" stroke-width="10.5" d="M1385.3 512.3h0M1383.9 513.3h0"/>
<path stroke="#26848d" stroke-width="10.5" d="M1382.4 513.2h0M1380.9 515.3h0M1379.5 516.5h0M1378 516.5h0"/>
<path stroke="#238c8c" stroke-width="10.5" d="M1376.5 518.1h0"/>
<path stroke="#26848d" stroke-width="10.5" d="M1375 521.8h0"/>
<path stroke="#21938b" stroke-width="10.5" d="M1373.6 523.8h0"/>
<path stroke="#26848d" stroke-width="10.5" d="M1372.1 522.3h0"/>
<path stroke="#238c8c" stroke-width="10.5" d="M1370.6 525.4h0"/>
<path stroke="#21938b" stroke-width="10.5" d="M1369.1 526.9h0"/>
<path stroke="#22a186" stroke-width="10.5" d="M1367.7 525.9h0M1366.2 526.3h0"/>
<path stroke="#219a89" stroke-width="10.5" d="M1364.7 531.7h0"/>
<path stroke="#21938b" stroke-width="10.5" d="M1363.2 529.7h0"/>
<path stroke="#238c8c" stroke-width="10.5" d="M1361.8 531.5h0"/>
<path stroke="#21938b" stroke-width="10.5" d="M1360.3 532.8h0"/>
<path stroke="#22a884" stroke-width="10.5" d="M1358.8 532.5h0"/>
<path stroke="#238c8c" stroke-width="10.5" d="M1357.3 535.5h0"/>
<path stroke="#26848d" stroke-width="10.5" d="M1355.9 535h0M1354.4 536.9h0"/>
<path stroke="#238c8c" stroke-width="10.5" d="M1352.9 537.9h0"/>
<path stroke="#26848d" stroke-width="10.5" d="M1351.4 537.9h0"/>
<path stroke="#238c8c" stroke-width="10.5" d="M1350 539.4h0"/>
<path stroke="#287d8e" stroke-width="10.5" d="M1348.5 540.4h0M1347 543.1h0"/>
<path stroke="#26848d" stroke-width="10.5" d="M1345.5 542.3h0M1344.1 545.5h0M1342.6 547.4h0M1341.1 547.1h0"/>
<path stroke="#219a89" stroke-width="10.5" d="M1339.7 549h0"/>
<path stroke="#36b678" stroke-width="10.5" d="M1338.2 548.1h0"/>
<path stroke="#21938b" stroke-width="10.5" d="M1336.7 551.1h0"/>
<path stroke="#238c8c" stroke-width="10.5" d="M1335.2 554.9h0"/>
<path stroke="#26848d" stroke-width="10.5" d="M1333.8 552.6h0"/>
<path stroke="#287d8e" stroke-width="10.5" d="M1332.3 555.1h0M1330.8 554.7h0M1329.3 557.2h0M1327.9 557.5h0M1326.4 560.2h0M1324.9 563.1h0"/>
<path stroke="#2b768e" stroke-width="10.5" d="M1323.4 562.6h0"/>
<path stroke="#287d8e" stroke-width="10.5" d="M1322 564.3h0"/>
<path stroke="#2b768e" stroke-width="10.5" d="M1320.5 566.8h0"/>
<path stroke="#2e6e8e" stroke-width="10.5" d="M1319 567.2h0M1317.5 570.7h0"/>
<path stroke="#2b768e" stroke-width="10.5" d="M1316.1 568.4h0"/>
<path stroke="#2e6e8e" stroke-width="10.5" d="M1314.6 570h0"/>
<path stroke="#287d8e" stroke-width="10.5" d="M1313.1 571h0"/>
<path stroke="#2b768e" stroke-width="10.5" d="M1311.6 574.5h0M1310.2 576.2h0M1308.7 574.6h0M1307.2 576.3h0M1305.8 578.5h0M1304.3 577.1h0M1302.8 578.7h0"/>
<path stroke="#2e6e8e" stroke-width="10.5" d="M1301.3 580.2h0M1299.9 583h0M1298.4 582.2h0M1296.9 584.5h0M1295.4 584.9h0M1294 587h0"/>
</g>
<line x1="1248.2" y1="621.4" x2="1982.6" y2="19" stroke="#ff0000" stroke-width="3.9"/>
<path d="M1241.7 14.1V630.4H1990.5V14.1" fill="none" stroke="#000" stroke-width="4.1"/>
<path d="M1232 608.2H1241.7M1268.5 630.4V639.8M1232 498.5H1241.7M1402.5 630.4V639.8M1232 388.8H1241.7M1536.5 630.4V639.8M1232 279.1H1241.7M1670.5 630.4V639.8M1232 169.4H1241.7M1804.5 630.4V639.8M1232 59.7H1241.7M1938.5 630.4V639.8" stroke="#000" stroke-width="4.1" fill="none"/>
<g font-size="33.3">
<text x="1225.5" y="618.6" text-anchor="end">75</text>
<text x="1268.5" y="672.6" text-anchor="middle">75</text>
<text x="1225.5" y="508.9" text-anchor="end">80</text>
<text x="1402.5" y="672.6" text-anchor="middle">80</text>
<text x="1225.5" y="399.2" text-anchor="end">85</text>
<text x="1536.5" y="672.6" text-anchor="middle">85</text>
<text x="1225.5" y="289.5" text-anchor="end">90</text>
<text x="1670.5" y="672.6" text-anchor="middle">90</text>
<text x="1225.5" y="179.8" text-anchor="end">95</text>
<text x="1804.5" y="672.6" text-anchor="middle">95</text>
<text x="1225.5" y="70.1" text-anchor="end">100</text>
<text x="1938.5" y="672.6" text-anchor="middle">100</text>
</g>
<text x="1640.4" y="727.3" font-size="42.7" text-anchor="middle">Real SOH %</text>
<text x="1163" y="322" font-size="42.7" text-anchor="middle" transform="rotate(-90 1163 322)">Estimated SOH %</text>
<line x1="1638.1" x2="1704.2" y1="529.7" y2="529.7" stroke="#ff0000" stroke-width="3.9"/>
<text x="1755.9" y="533.3" font-size="43.3">Real SOH</text>
<text x="1122.1" y="47.6" font-size="65" font-weight="bold">b</text>
<!-- panel c -->
<defs>
<pattern id="hb" patternUnits="userSpaceOnUse" x="12.8" y="0" width="14" height="14"><path d="M-2 2L2 -2M-2 16L16 -2M12 16L16 12" stroke="#dcdeeb" stroke-width="1.95" fill="none"/></pattern>
<pattern id="hl" patternUnits="userSpaceOnUse" x="7.94" y="0" width="9.16" height="9.16"><path d="M-2 -2L2 2M-2 7.16L2 11.16M-2 -2L11.16 11.16M7.16 -2L11.16 2" stroke="#c0c0c0" stroke-width="1.35" fill="none"/></pattern>
</defs>
<g font-size="33.3" text-anchor="middle">
<rect x="198.5" y="887.2" width="162.9" height="463" fill="#fde725" stroke="#dcdeeb" stroke-width="1.6"/>
<rect x="361.4" y="868.3" width="162.9" height="481.9" fill="#fde725"/>
<rect x="361.4" y="868.3" width="162.9" height="481.9" fill="url(#hb)" stroke="#dcdeeb" stroke-width="2.2"/>
<text x="279.1" y="877.8">1.786</text>
<text x="443.6" y="861.2">1.859</text>
<rect x="665" y="988" width="162.9" height="362.2" fill="#35b779" stroke="#dcdeeb" stroke-width="1.6"/>
<rect x="827.9" y="953.5" width="162.9" height="396.7" fill="#35b779"/>
<rect x="827.9" y="953.5" width="162.9" height="396.7" fill="url(#hb)" stroke="#dcdeeb" stroke-width="2.2"/>
<text x="735.3" y="981.3">1.397</text>
<text x="910.1" y="946.4">1.530</text>
<rect x="1131.5" y="991.1" width="162.9" height="359.1" fill="#31688e" stroke="#dcdeeb" stroke-width="1.6"/>
<rect x="1294.4" y="965" width="162.9" height="385.2" fill="#31688e"/>
<rect x="1294.4" y="965" width="162.9" height="385.2" fill="url(#hb)" stroke="#dcdeeb" stroke-width="2.2"/>
<text x="1203.7" y="984.7">1.385</text>
<text x="1376.7" y="957.9">1.486</text>
<rect x="1598" y="1137.1" width="162.9" height="213.1" fill="#440154" stroke="#dcdeeb" stroke-width="1.6"/>
<rect x="1760.9" y="1078.5" width="162.9" height="271.7" fill="#440154"/>
<rect x="1760.9" y="1078.5" width="162.9" height="271.7" fill="url(#hb)" stroke="#dcdeeb" stroke-width="2.2"/>
<text x="1663" y="1128.9">0.822</text>
<text x="1843.2" y="1071.4">1.048</text>
</g>
<rect x="127.9" y="780.4" width="1867.4" height="569.9" fill="none" stroke="#000" stroke-width="4.1"/>
<path d="M118 1350.2H127.9M118 1246.5H127.9M118 1142.8H127.9M118 1039.1H127.9M118 935.4H127.9M118 831.7H127.9M361.4 1340.1V1350.2M827.9 1340.1V1350.2M1294.4 1340.1V1350.2M1760.9 1340.1V1350.2" stroke="#000" stroke-width="4.1" fill="none"/>
<g font-size="33.3" text-anchor="end">
<text x="111.7" y="1360.7">0.0</text>
<text x="111.7" y="1257">0.4</text>
<text x="111.7" y="1153.3">0.8</text>
<text x="111.7" y="1049.6">1.2</text>
<text x="111.7" y="945.9">1.6</text>
<text x="111.7" y="842.2">2.0</text>
</g>
<g font-size="42.7" text-anchor="middle">
<text x="361.4" y="1393.4">V</text>
<text x="827.9" y="1393.4">VT</text>
<text x="1294.4" y="1393.4">VS</text>
<text x="1760.9" y="1393.4">VTS</text>
</g>
<text x="31.8" y="1065" font-size="42.7" text-anchor="middle" transform="rotate(-90 31.8 1065)">Error (%)</text>
<text x="-1.9" y="805.6" font-size="65" font-weight="bold">c</text>
<rect x="660.1" y="807" width="103.8" height="42.4" fill="#fff" stroke="#c4c4c4" stroke-width="1.7"/>
<rect x="950.1" y="805.6" width="107.6" height="41.3" fill="url(#hl)" stroke="#c4c4c4" stroke-width="1.7"/>
<text x="781.2" y="839.8" font-size="33.3">MAE</text>
<text x="1073.2" y="839.8" font-size="33.3">RMSE</text>
</svg>
</body></html>
